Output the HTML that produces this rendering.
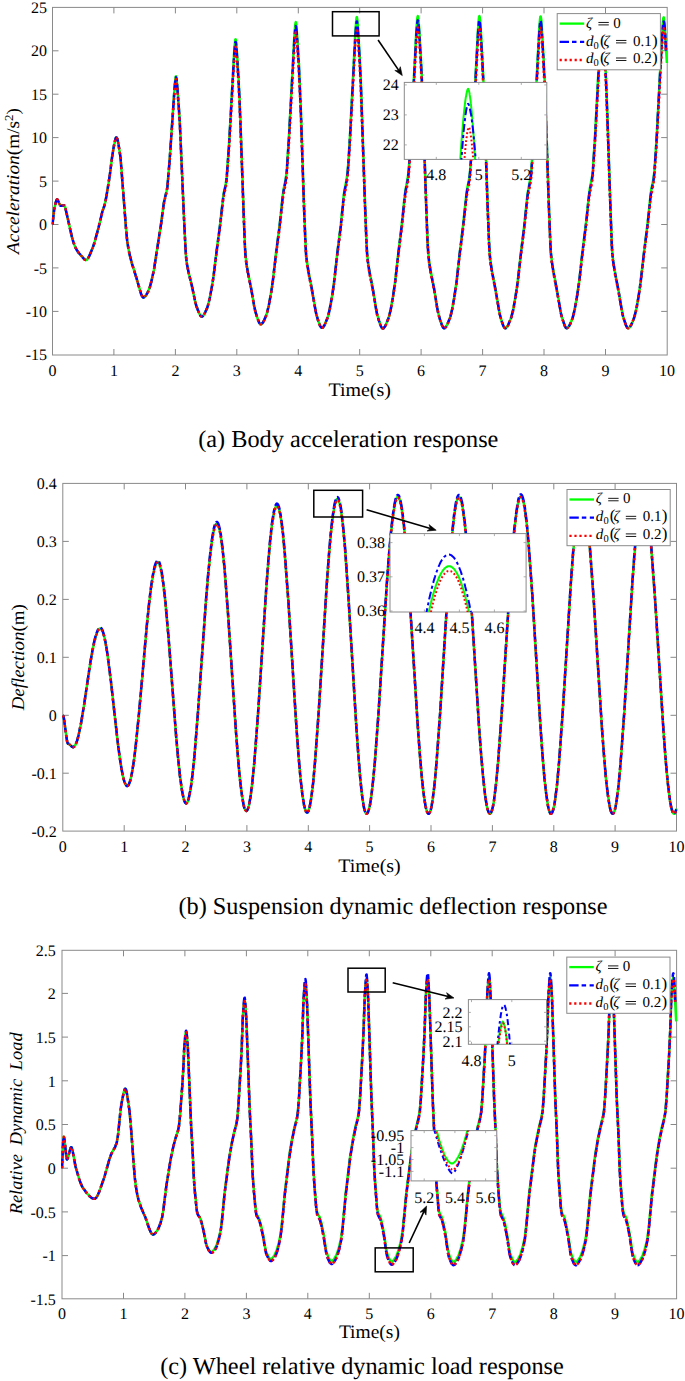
<!DOCTYPE html>
<html><head><meta charset="utf-8"><style>
html,body{margin:0;padding:0;background:#fff;}
svg{display:block;font-family:"Liberation Serif",serif;text-rendering:geometricPrecision;}
</style></head><body>
<svg width="685" height="1381" viewBox="0 0 685 1381">
<rect width="685" height="1381" fill="#fff"/>
<defs><clipPath id="c1"><rect x="51.5" y="6" width="617" height="350"/></clipPath><clipPath id="c2"><rect x="61.8" y="482.4" width="616" height="350"/></clipPath><clipPath id="c3"><rect x="61" y="949.3" width="616.8" height="350.2"/></clipPath><clipPath id="i1"><rect x="404.3" y="82.4" width="142.5" height="77"/></clipPath><clipPath id="i2"><rect x="390" y="533.6" width="136.1" height="78.4"/></clipPath><clipPath id="i3"><rect x="468.4" y="999.6" width="78.1" height="44.7"/></clipPath><clipPath id="i4"><rect x="411" y="1130.6" width="85.8" height="50.3"/></clipPath></defs>
<rect x="52.5" y="7.4" width="614.7" height="347.6" fill="none" stroke="#8a8a8a" stroke-width="1"/>
<path d="M113.9,355v-6M113.9,7.4v6" stroke="#888" stroke-width="1"/>
<path d="M175.4,355v-6M175.4,7.4v6" stroke="#888" stroke-width="1"/>
<path d="M236.8,355v-6M236.8,7.4v6" stroke="#888" stroke-width="1"/>
<path d="M298.3,355v-6M298.3,7.4v6" stroke="#888" stroke-width="1"/>
<path d="M359.7,355v-6M359.7,7.4v6" stroke="#888" stroke-width="1"/>
<path d="M421.1,355v-6M421.1,7.4v6" stroke="#888" stroke-width="1"/>
<path d="M482.6,355v-6M482.6,7.4v6" stroke="#888" stroke-width="1"/>
<path d="M544.0,355v-6M544.0,7.4v6" stroke="#888" stroke-width="1"/>
<path d="M605.5,355v-6M605.5,7.4v6" stroke="#888" stroke-width="1"/>
<path d="M52.5,311.4h6M667.2,311.4h-6" stroke="#888" stroke-width="1"/>
<path d="M52.5,267.9h6M667.2,267.9h-6" stroke="#888" stroke-width="1"/>
<path d="M52.5,224.5h6M667.2,224.5h-6" stroke="#888" stroke-width="1"/>
<path d="M52.5,181.1h6M667.2,181.1h-6" stroke="#888" stroke-width="1"/>
<path d="M52.5,137.6h6M667.2,137.6h-6" stroke="#888" stroke-width="1"/>
<path d="M52.5,94.2h6M667.2,94.2h-6" stroke="#888" stroke-width="1"/>
<path d="M52.5,50.8h6M667.2,50.8h-6" stroke="#888" stroke-width="1"/>

<path d="M52.5,224.5 53.5,215.1 54.3,208.7 55.7,202.5 56.7,199.7 57.2,199.3 57.8,199.9 59.7,204.6 60.5,205.7 61.0,205.8 63.7,205.4 64.4,205.5 65.0,206.7 65.6,208.9 71.8,236.6 73.6,242.8 75.2,247.1 76.7,249.9 78.6,252.7 84.3,259.2 85.2,259.9 86.0,260.1 86.8,259.8 87.6,258.9 88.7,257.1 90.0,254.4 92.8,247.5 94.2,243.5 98.5,227.8 102.5,211.0 104.4,205.8 105.1,203.0 106.4,196.3 108.0,186.6 109.9,174.4 112.1,156.9 113.9,145.9 115.4,139.0 116.0,137.6 116.4,137.4 116.6,137.5 117.4,139.0 118.2,142.6 120.5,157.2 126.1,229.6 127.2,240.9 128.4,248.8 129.8,255.3 131.8,263.1 136.5,278.2 140.9,293.4 142.0,296.0 142.9,297.3 143.4,297.5 144.0,297.3 145.3,296.3 146.5,294.5 148.0,291.7 149.7,287.6 151.5,280.8 153.9,269.9 161.1,223.3 163.8,203.0 164.7,198.5 166.5,191.2 167.4,186.3 169.6,160.1 174.6,86.7 175.4,78.7 175.7,76.6 176.0,76.2 176.2,76.6 176.6,78.6 177.2,84.8 178.9,107.8 179.9,124.0 184.2,222.2 185.6,250.0 186.2,258.3 187.1,264.7 188.7,272.7 192.0,286.3 195.0,300.9 196.3,305.8 198.5,311.7 200.2,315.2 200.9,316.2 201.6,316.5 202.3,316.5 203.0,315.9 204.0,314.6 205.2,312.3 207.1,308.1 207.9,305.5 209.8,297.8 212.1,285.1 213.6,275.4 216.7,249.9 220.0,225.0 223.1,197.5 223.9,192.3 225.8,183.4 226.6,177.6 229.0,144.5 234.2,51.6 235.0,42.2 235.3,39.7 235.6,39.2 235.8,39.7 236.2,42.2 236.8,49.9 238.4,75.8 239.4,95.3 240.6,126.0 243.6,211.1 244.9,245.0 245.5,255.3 246.4,262.9 247.9,272.0 251.2,288.5 254.1,305.5 255.4,311.6 257.5,318.4 259.2,322.7 259.8,323.7 260.4,324.3 261.0,324.3 261.8,323.9 262.7,322.8 264.0,320.5 266.2,315.3 267.0,312.7 268.9,304.8 271.2,291.6 272.9,280.1 276.1,252.1 279.6,225.1 282.8,194.9 283.6,189.3 285.6,179.4 286.6,172.2 288.9,137.0 294.3,36.8 295.2,25.2 295.6,22.7 295.8,22.1 296.0,22.7 296.4,25.2 297.0,33.0 298.8,61.8 299.7,81.9 301.0,113.4 304.0,205.2 305.5,243.3 306.1,253.8 307.0,261.8 308.6,272.0 312.0,289.6 315.0,307.3 316.3,314.2 318.4,321.3 320.1,325.8 320.9,327.1 321.5,327.7 322.1,327.8 322.7,327.6 323.8,326.3 324.9,324.3 328.0,316.4 329.8,308.5 332.2,295.1 334.0,282.5 337.3,252.6 340.7,225.7 343.8,194.6 344.7,188.9 346.7,178.7 347.5,172.3 348.3,163.0 349.9,136.8 355.4,31.4 356.3,19.8 356.6,17.5 356.9,17.2 357.5,21.0 358.1,29.3 359.7,56.7 360.8,79.9 365.0,202.9 366.5,242.1 367.1,252.9 367.9,261.1 369.5,271.6 373.0,289.6 375.9,307.7 377.1,314.2 379.0,320.7 380.8,326.0 381.6,327.4 382.2,328.2 382.8,328.5 383.4,328.3 384.5,327.2 385.6,325.3 388.8,317.3 390.7,309.5 393.0,296.2 395.0,282.7 398.2,253.8 401.6,225.8 404.8,194.6 405.7,188.8 407.6,178.6 408.5,172.3 409.2,163.1 410.8,137.0 416.3,31.3 417.2,19.2 417.6,16.6 417.8,16.1 418.1,16.6 418.4,19.1 419.1,26.9 420.8,56.0 421.8,76.3 423.0,107.9 426.2,204.2 427.5,239.8 428.3,253.0 429.1,260.9 430.7,271.2 434.2,289.1 437.2,307.7 438.5,314.1 440.3,320.5 442.2,325.7 443.5,328.0 444.1,328.3 444.7,328.1 445.8,327.1 447.1,325.0 450.3,317.0 452.1,309.2 454.3,296.7 456.4,282.5 459.7,252.8 463.0,226.0 466.4,194.0 467.2,188.4 469.1,178.9 470.0,171.8 472.4,136.2 477.9,31.1 478.8,19.2 479.1,16.6 479.4,16.1 479.6,16.6 480.0,19.2 480.6,27.2 482.3,56.9 483.3,77.7 484.5,110.4 487.6,204.6 489.0,240.7 489.6,252.1 490.4,260.5 492.0,271.0 495.5,289.2 499.7,313.9 501.5,320.5 503.3,325.8 504.6,327.9 505.2,328.3 505.8,328.2 506.9,327.2 508.1,325.1 511.3,317.2 513.2,309.6 515.5,296.5 517.6,282.3 520.8,253.6 524.2,225.9 527.4,195.0 528.3,189.2 530.4,178.3 531.2,171.9 533.6,136.3 539.1,31.5 540.0,19.6 540.3,17.0 540.6,16.5 540.8,17.0 541.2,19.6 541.8,27.5 543.5,56.8 544.5,77.2 545.7,109.2 548.8,202.6 550.3,241.6 550.9,252.5 551.8,260.7 553.4,271.1 556.9,289.8 561.0,313.6 562.0,317.5 564.7,325.6 565.9,327.8 566.5,328.2 567.1,328.2 568.2,327.3 569.5,325.4 571.1,321.8 572.8,317.3 574.6,309.7 576.8,297.3 579.3,280.3 582.2,253.7 586.0,222.9 588.9,195.2 589.7,189.3 591.8,178.5 592.7,172.1 595.0,136.5 600.5,31.9 601.4,20.1 601.8,17.5 602.0,16.9 602.3,17.5 602.6,20.0 603.2,27.9 605.0,57.2 606.0,77.6 607.2,109.5 610.3,202.8 611.7,241.7 612.3,252.6 613.2,260.8 614.8,271.2 618.4,289.8 622.4,313.6 623.3,317.1 626.0,325.3 627.3,327.8 627.9,328.2 628.4,328.3 629.5,327.5 630.8,325.6 632.4,322.2 634.2,317.4 636.1,309.9 638.3,297.7 639.7,288.5 640.8,280.0 643.8,253.7 647.6,223.1 650.6,194.6 651.4,189.0 653.4,179.0 654.2,172.8 655.3,158.2 656.7,135.9 662.1,34.1 662.8,23.0 663.3,18.4 663.6,17.4 663.7,17.3 663.8,17.4 664.4,22.0 666.9,63.0" fill="none" stroke="#00ff00" stroke-width="2.5"  stroke-linejoin="round" clip-path="url(#c1)"/>
<path d="M52.5,224.5 53.5,215.1 54.3,208.7 55.7,202.5 56.7,199.7 57.2,199.3 57.8,199.9 59.7,204.6 60.5,205.7 61.0,205.8 63.7,205.4 64.4,205.5 65.0,206.7 65.6,208.9 71.8,236.6 73.6,242.8 75.2,247.1 76.7,249.9 78.6,252.7 84.3,259.2 85.2,259.9 86.0,260.1 86.8,259.8 87.6,258.9 88.7,257.1 90.0,254.4 92.8,247.5 94.2,243.5 98.5,227.8 102.5,211.0 104.4,205.8 105.1,203.0 106.4,196.3 108.0,186.6 109.9,174.4 112.1,156.9 113.9,145.9 115.4,139.0 116.0,137.6 116.4,137.4 116.6,137.5 117.4,139.0 118.2,142.6 120.5,157.2 126.1,229.6 127.2,240.9 128.4,248.8 129.8,255.3 131.8,263.1 136.5,278.2 140.9,293.4 142.0,296.0 142.9,297.3 143.4,297.5 144.0,297.3 145.3,296.3 146.5,294.5 148.0,291.8 149.7,287.7 151.5,280.9 153.9,270.0 161.1,223.7 163.8,203.5 164.7,199.0 166.5,191.7 167.4,186.9 169.6,160.8 174.6,87.7 175.4,79.8 175.7,77.7 176.0,77.3 176.2,77.7 176.6,79.7 177.2,85.9 178.9,108.8 179.9,124.9 184.2,222.6 185.6,250.3 186.2,258.6 187.1,264.9 188.7,272.9 192.0,286.4 195.0,300.9 196.3,305.9 198.5,311.8 200.2,315.2 200.9,316.2 201.6,316.5 202.3,316.5 203.0,315.9 204.0,314.6 205.2,312.3 207.1,308.1 207.9,305.7 209.8,298.0 212.1,285.4 213.6,275.9 216.7,250.6 220.0,226.0 223.1,198.7 223.9,193.5 225.8,184.8 226.6,179.0 229.0,146.2 234.2,54.3 235.0,45.0 235.3,42.5 235.6,42.0 235.8,42.5 236.2,45.1 236.8,52.6 238.4,78.3 239.4,97.6 240.6,128.0 243.6,212.2 244.9,245.8 245.5,256.0 246.4,263.5 247.9,272.5 251.2,288.9 254.1,305.7 255.4,311.7 257.5,318.5 259.2,322.8 259.8,323.7 260.4,324.3 261.0,324.3 261.8,324.0 262.7,322.8 264.0,320.6 266.2,315.4 267.0,312.9 268.9,305.1 271.2,292.1 272.9,280.6 276.1,253.1 279.6,226.4 282.8,196.6 283.6,191.1 285.6,181.3 286.6,174.2 288.9,139.4 294.3,40.6 295.2,29.1 295.6,26.6 295.8,26.1 296.0,26.6 296.4,29.1 297.0,36.7 298.8,65.2 299.7,85.1 301.0,116.2 304.0,206.7 305.5,244.4 306.1,254.8 307.0,262.6 308.6,272.7 312.0,290.1 315.0,307.5 316.3,314.4 318.4,321.4 320.1,325.9 320.9,327.1 321.5,327.7 322.1,327.8 322.7,327.6 323.8,326.3 324.9,324.3 328.0,316.6 329.8,308.8 332.2,295.6 334.0,283.1 337.3,253.6 340.7,227.1 343.8,196.5 344.7,190.8 346.7,180.7 347.5,174.5 348.3,165.2 349.9,139.4 355.4,35.4 356.3,24.0 356.6,21.8 356.9,21.5 357.5,25.2 358.1,33.4 359.7,60.4 360.8,83.3 365.0,204.6 366.5,243.2 367.1,254.0 367.9,262.0 369.5,272.3 373.0,290.2 375.9,308.0 377.1,314.4 379.0,320.8 380.8,326.0 381.6,327.4 382.2,328.2 382.8,328.5 383.4,328.3 384.5,327.2 385.6,325.3 388.8,317.4 390.7,309.8 393.0,296.6 395.0,283.3 398.2,254.8 401.6,227.2 404.8,196.5 405.7,190.8 407.6,180.7 408.5,174.5 409.2,165.4 410.8,139.6 416.3,35.4 417.2,23.5 417.6,20.9 417.8,20.4 418.1,20.9 418.4,23.4 419.1,31.1 420.8,59.8 421.8,79.8 423.0,111.0 426.2,205.9 427.5,241.1 428.3,254.0 429.1,261.9 430.7,272.0 434.2,289.6 437.2,307.9 438.5,314.3 440.3,320.6 442.2,325.8 443.5,328.0 444.1,328.3 444.7,328.1 445.8,327.1 447.1,325.0 450.3,317.1 452.1,309.5 454.3,297.2 456.4,283.2 459.7,253.8 463.0,227.4 466.4,195.9 467.2,190.3 469.1,181.0 470.0,174.0 472.4,138.9 477.9,35.2 478.8,23.5 479.1,20.9 479.4,20.4 479.6,20.9 480.0,23.5 480.6,31.4 482.3,60.7 483.3,81.2 484.5,113.4 487.6,206.3 489.0,241.9 489.6,253.1 490.4,261.4 492.0,271.8 495.5,289.8 499.7,314.1 501.5,320.6 503.3,325.8 504.6,327.9 505.2,328.3 505.8,328.2 506.9,327.2 508.1,325.2 511.3,317.4 513.2,309.9 515.5,296.9 517.6,282.9 520.8,254.7 524.2,227.3 527.4,196.8 528.3,191.1 530.4,180.3 531.2,174.0 533.6,138.9 539.1,35.6 540.0,23.9 540.3,21.3 540.6,20.8 540.8,21.3 541.2,23.9 541.8,31.6 543.5,60.6 544.5,80.7 545.7,112.3 548.8,204.4 550.3,242.8 550.9,253.5 551.8,261.6 553.4,271.9 556.9,290.3 561.0,313.8 562.0,317.6 564.7,325.6 565.9,327.8 566.5,328.2 567.1,328.2 568.2,327.4 569.5,325.4 571.1,321.9 572.8,317.4 574.6,309.9 576.8,297.7 579.3,281.0 582.2,254.8 586.0,224.3 588.9,197.0 589.7,191.3 591.8,180.5 592.7,174.2 595.0,139.2 600.5,36.0 601.4,24.3 601.8,21.7 602.0,21.2 602.3,21.7 602.6,24.3 603.2,32.0 605.0,60.9 606.0,81.0 607.2,112.6 610.3,204.5 611.7,242.9 612.3,253.6 613.2,261.7 614.8,272.0 618.4,290.4 622.4,313.8 623.4,317.6 626.1,325.6 627.3,327.8 627.9,328.2 628.6,328.2 629.7,327.4 630.9,325.4 632.4,322.3 634.2,317.5 636.1,310.2 638.3,298.2 639.7,289.1 640.8,280.7 643.8,254.7 647.6,224.5 650.6,196.4 651.4,190.9 653.4,181.0 654.2,174.9 656.3,144.9 661.0,56.7 662.5,32.2 663.2,23.5 663.6,21.7 663.8,21.6 664.2,22.9 664.6,25.7 665.3,35.8 666.0,51.7" fill="none" stroke="#0000ff" stroke-width="2.5" stroke-dasharray="9.8 2.7 4.8 2.7" stroke-linejoin="round" clip-path="url(#c1)"/>
<path d="M52.5,224.5 53.5,215.1 54.3,208.7 55.7,202.5 56.7,199.7 57.2,199.3 57.8,199.9 59.7,204.6 60.5,205.7 61.0,205.8 63.7,205.4 64.4,205.5 65.0,206.7 65.6,208.9 71.8,236.6 73.6,242.8 75.2,247.1 76.7,249.9 78.6,252.7 84.3,259.2 85.2,259.9 86.0,260.1 86.8,259.8 87.6,258.9 88.7,257.1 90.0,254.4 92.8,247.5 94.2,243.5 98.5,227.8 102.5,211.0 104.4,205.8 105.1,203.0 106.4,196.3 108.0,186.6 109.9,174.4 112.1,156.9 113.9,145.9 115.4,139.0 116.0,137.6 116.4,137.4 116.6,137.5 117.4,139.0 118.2,142.6 120.5,157.2 126.1,229.6 127.2,240.9 128.4,248.8 129.8,255.3 131.8,263.1 136.5,278.2 140.9,293.4 142.0,296.0 142.9,297.3 143.4,297.5 144.0,297.3 145.3,296.3 146.5,294.5 148.0,291.8 149.7,287.8 151.5,281.0 153.9,270.3 161.1,224.3 163.8,204.2 164.7,199.8 166.5,192.6 167.4,187.7 169.6,161.9 174.6,89.4 175.4,81.6 175.7,79.5 176.0,79.0 176.2,79.5 176.6,81.5 177.2,87.6 178.9,110.4 179.9,126.3 184.2,223.3 185.6,250.8 186.2,259.0 187.1,265.3 188.7,273.3 192.0,286.6 195.0,301.0 196.3,306.0 198.5,311.8 200.2,315.3 200.9,316.2 201.6,316.5 202.3,316.5 203.0,315.9 204.0,314.7 205.2,312.4 207.1,308.3 207.9,305.8 209.8,298.3 212.1,285.9 213.6,276.5 216.7,251.7 220.0,227.5 223.1,200.7 223.9,195.6 225.8,187.0 226.6,181.3 229.0,149.1 234.2,58.6 235.0,49.5 235.3,47.1 235.6,46.6 235.8,47.1 236.2,49.6 236.8,57.0 238.4,82.3 239.4,101.2 240.6,131.1 243.6,214.0 244.9,247.0 245.5,257.1 246.4,264.5 247.9,273.4 251.2,289.4 254.1,306.0 255.4,311.9 257.5,318.6 259.2,322.8 259.8,323.7 260.4,324.3 261.0,324.4 261.8,324.0 262.7,322.8 264.0,320.7 266.2,315.6 267.0,313.1 268.9,305.5 271.2,292.7 272.9,281.6 276.1,254.6 279.6,228.4 282.8,199.3 283.6,193.9 285.6,184.3 286.6,177.4 288.9,143.3 294.3,46.5 295.2,35.3 295.6,32.8 295.8,32.3 296.0,32.8 296.4,35.3 297.0,42.8 298.8,70.7 299.7,90.1 301.0,120.6 304.0,209.2 305.5,246.2 306.1,256.3 307.0,264.0 308.6,273.8 312.0,290.9 316.2,314.1 318.2,320.8 320.0,325.7 320.7,327.0 321.4,327.6 322.0,327.8 322.6,327.6 323.7,326.5 324.8,324.6 326.5,320.8 328.0,316.8 329.8,309.2 332.1,297.0 334.0,284.1 337.3,255.3 340.7,229.4 343.8,199.4 344.7,193.9 346.7,184.0 347.5,177.9 348.3,168.8 349.9,143.6 355.4,41.9 356.3,30.8 356.6,28.6 356.9,28.3 357.5,31.9 358.1,39.9 359.7,66.4 360.8,88.7 365.0,207.4 366.5,245.1 367.1,255.6 367.9,263.5 369.5,273.6 373.0,291.0 375.9,308.4 377.1,314.7 379.0,321.0 380.8,326.1 381.6,327.5 382.2,328.2 382.8,328.5 383.4,328.3 384.5,327.2 385.6,325.4 388.8,317.7 390.7,310.2 393.0,297.3 395.0,284.3 398.2,256.5 401.6,229.5 404.8,199.5 405.7,193.9 407.6,184.0 408.5,178.0 409.2,169.1 410.8,143.9 416.3,42.0 417.2,30.4 417.6,27.9 417.8,27.4 418.1,27.9 418.4,30.3 419.1,37.8 420.8,65.9 421.8,85.4 423.0,115.9 426.2,208.7 427.5,243.0 428.3,255.7 429.1,263.4 430.7,273.3 434.2,290.5 437.2,308.4 438.5,314.6 440.3,320.8 442.2,325.8 443.5,328.0 444.1,328.3 444.7,328.1 445.8,327.1 447.1,325.1 450.3,317.4 452.1,309.9 454.3,297.9 456.4,284.2 459.7,255.5 463.0,229.7 466.4,198.9 467.2,193.4 469.1,184.3 470.0,177.5 472.4,143.2 477.9,41.9 478.8,30.4 479.1,27.9 479.4,27.4 479.6,27.9 480.0,30.4 480.6,38.1 482.3,66.8 483.3,86.8 484.5,118.2 487.6,209.1 489.0,243.9 489.6,254.8 490.4,262.9 492.0,273.1 495.5,290.6 499.7,314.4 501.5,320.8 503.3,325.9 504.6,327.9 505.2,328.3 505.8,328.2 506.9,327.2 508.1,325.2 511.3,317.6 513.2,310.3 515.5,297.6 517.6,283.9 520.8,256.3 524.2,229.6 527.4,199.8 528.3,194.2 530.4,183.7 531.2,177.5 533.6,143.2 539.1,42.2 540.0,30.7 540.3,28.2 540.6,27.7 540.8,28.2 541.2,30.7 541.8,38.3 543.5,66.6 544.5,86.3 545.7,117.1 548.8,207.1 550.3,244.7 550.9,255.2 551.8,263.1 553.4,273.2 556.9,291.2 561.0,314.1 562.0,317.9 564.7,325.7 565.9,327.8 566.5,328.2 567.1,328.2 568.2,327.4 569.5,325.5 571.1,322.0 572.8,317.6 574.6,310.3 576.8,298.4 579.3,282.0 582.2,256.4 586.0,226.6 588.9,199.9 589.7,194.3 591.8,183.8 592.7,177.7 595.0,143.4 600.5,42.5 601.4,31.1 601.8,28.6 602.0,28.1 602.3,28.6 602.6,31.1 603.2,38.6 605.0,66.9 606.0,86.5 607.2,117.4 610.3,207.3 611.7,244.8 612.3,255.3 613.2,263.2 614.8,273.2 618.4,291.2 622.4,314.2 623.4,317.9 626.1,325.7 627.3,327.8 627.9,328.2 628.6,328.2 629.8,327.2 631.1,325.0 633.7,319.1 634.7,316.2 635.9,311.2 637.2,305.0 640.2,286.5 643.8,256.3 647.6,226.8 650.4,200.3 651.3,194.6 653.5,183.5 654.5,176.0 656.6,144.8 661.0,62.8 663.1,31.3 663.5,28.9 663.7,28.3 664.2,29.3 664.6,31.3 665.3,39.0 666.0,51.7" fill="none" stroke="#ff0000" stroke-width="2.5" stroke-dasharray="2.3 2.7" stroke-linejoin="round" clip-path="url(#c1)"/>

<text x="47.0" y="360.4" font-size="16" text-anchor="end" >-15</text>

<text x="47.0" y="317.0" font-size="16" text-anchor="end" >-10</text>

<text x="47.0" y="273.5" font-size="16" text-anchor="end" >-5</text>

<text x="47.0" y="230.1" font-size="16" text-anchor="end" >0</text>

<text x="47.0" y="186.7" font-size="16" text-anchor="end" >5</text>

<text x="47.0" y="143.2" font-size="16" text-anchor="end" >10</text>

<text x="47.0" y="99.8" font-size="16" text-anchor="end" >15</text>

<text x="47.0" y="56.4" font-size="16" text-anchor="end" >20</text>

<text x="47.0" y="13.0" font-size="16" text-anchor="end" >25</text>

<text x="52.5" y="375.7" font-size="16" text-anchor="middle" >0</text>

<text x="113.9" y="375.7" font-size="16" text-anchor="middle" >1</text>

<text x="175.4" y="375.7" font-size="16" text-anchor="middle" >2</text>

<text x="236.8" y="375.7" font-size="16" text-anchor="middle" >3</text>

<text x="298.3" y="375.7" font-size="16" text-anchor="middle" >4</text>

<text x="359.7" y="375.7" font-size="16" text-anchor="middle" >5</text>

<text x="421.1" y="375.7" font-size="16" text-anchor="middle" >6</text>

<text x="482.6" y="375.7" font-size="16" text-anchor="middle" >7</text>

<text x="544.0" y="375.7" font-size="16" text-anchor="middle" >8</text>

<text x="605.5" y="375.7" font-size="16" text-anchor="middle" >9</text>

<text x="666.9" y="375.7" font-size="16" text-anchor="middle" >10</text>

<text x="359.7" y="395.5" font-size="19" text-anchor="middle" textLength="62.5" lengthAdjust="spacingAndGlyphs">Time(s)</text>

<text x="348.3" y="446.5" font-size="24.3" text-anchor="middle" >(a) Body acceleration response</text>

<text transform="translate(19,181) rotate(-90)" font-size="18" text-anchor="middle" textLength="146" lengthAdjust="spacingAndGlyphs" ><tspan font-style="italic">Acceleration</tspan>(m/s<tspan dy="-6" font-size="12">2</tspan><tspan dy="6">)</tspan></text>

<rect x="557.2" y="13.6" width="103.2" height="56.2" fill="#fff" stroke="#8a8a8a" stroke-width="1"/>
<path d="M559.6,23.6H584.2" stroke="#00ff00" stroke-width="2.3"/>
<path d="M559.6,41.8H584.2" stroke="#0000ff" stroke-width="2.3" stroke-dasharray="9.4 3 4.5 3.5"/>
<path d="M559.6,60.0H584.2" stroke="#ff0000" stroke-width="2.3" stroke-dasharray="2.2 2.8"/>
<text font-size="15" y="27.5"><tspan x="586.0" font-style="italic">ζ</tspan><tspan x="613.2">0</tspan></text>
<rect x="598.4" y="21.95" width="10.4" height="0.9" fill="#000"/><rect x="598.4" y="24.45" width="10.4" height="0.9" fill="#000"/>
<text font-size="15" y="45.5"><tspan x="586.0" font-style="italic">d</tspan><tspan x="593.6" dy="3" font-size="10.5">0</tspan><tspan x="600.0" dy="-3" font-size="17">(</tspan><tspan x="603.6" font-style="italic" font-size="15">ζ</tspan><tspan x="633.0">0.1</tspan><tspan x="652.0" font-size="17">)</tspan></text>
<rect x="616.0" y="39.95" width="10.4" height="0.9" fill="#000"/><rect x="616.0" y="42.45" width="10.4" height="0.9" fill="#000"/>
<text font-size="15" y="63.1"><tspan x="586.0" font-style="italic">d</tspan><tspan x="593.6" dy="3" font-size="10.5">0</tspan><tspan x="600.0" dy="-3" font-size="17">(</tspan><tspan x="603.6" font-style="italic" font-size="15">ζ</tspan><tspan x="633.0">0.2</tspan><tspan x="652.0" font-size="17">)</tspan></text>
<rect x="616.0" y="57.55" width="10.4" height="0.9" fill="#000"/><rect x="616.0" y="60.05" width="10.4" height="0.9" fill="#000"/>

<rect x="332.5" y="11.7" width="46.6" height="24.2" fill="none" stroke="#000" stroke-width="1.5"/>

<path d="M378.1,40.0L398.9,70.6" stroke="#000" stroke-width="1.6"/>
<path d="M402.3,75.6L394.8,70.4L398.9,70.6L400.3,66.7Z" fill="#000" stroke="#000" stroke-width="0.6" stroke-linejoin="miter"/>

<rect x="404.3" y="82.4" width="142.5" height="77.0" fill="#fff" stroke="#8a8a8a" stroke-width="1"/>
<path d="M436.3,159.4v-2.5M436.3,82.4v2.5" stroke="#999" stroke-width="0.8"/>
<text x="436.3" y="179.7" font-size="16" text-anchor="middle" >4.8</text>
<path d="M478.8,159.4v-2.5M478.8,82.4v2.5" stroke="#999" stroke-width="0.8"/>
<text x="478.8" y="179.7" font-size="16" text-anchor="middle" >5</text>
<path d="M521.3,159.4v-2.5M521.3,82.4v2.5" stroke="#999" stroke-width="0.8"/>
<text x="521.3" y="179.7" font-size="16" text-anchor="middle" >5.2</text>
<path d="M404.3,84.9h2.5M546.8,84.9h-2.5" stroke="#999" stroke-width="0.8"/>
<text x="398.8" y="90.3" font-size="16" text-anchor="end" >24</text>
<path d="M404.3,114.9h2.5M546.8,114.9h-2.5" stroke="#999" stroke-width="0.8"/>
<text x="398.8" y="120.3" font-size="16" text-anchor="end" >23</text>
<path d="M404.3,144.9h2.5M546.8,144.9h-2.5" stroke="#999" stroke-width="0.8"/>
<text x="398.8" y="150.3" font-size="16" text-anchor="end" >22</text>

<path d="M459.9,165.9 460.1,162.7 460.3,159.5 460.5,156.3 460.7,153.3 460.9,150.2 461.1,147.3 461.3,144.4 461.5,141.6 461.7,138.8 462.0,136.1 462.2,133.4 462.4,130.8 462.6,128.3 462.8,125.9 463.0,123.5 463.2,121.2 463.4,118.9 463.6,116.7 463.8,114.6 464.0,112.5 464.2,110.5 464.4,108.6 464.6,106.8 464.8,105.0 465.0,103.4 465.2,101.7 465.4,100.2 465.6,98.8 465.8,97.4 466.1,96.1 466.3,94.9 466.5,93.8 466.7,92.8 466.9,91.9 467.1,91.0 467.3,90.3 467.5,89.7 467.7,89.3 467.9,88.9 468.1,88.8 468.3,88.9 468.5,89.3 468.6,89.7 468.8,90.3 469.0,91.0 469.2,91.9 469.4,92.8 469.6,93.8 469.7,94.9 469.9,96.1 470.1,97.4 470.3,98.8 470.5,100.2 470.7,101.7 470.8,103.4 471.0,105.0 471.2,106.8 471.4,108.6 471.6,110.5 471.8,112.5 471.9,114.6 472.1,116.7 472.3,118.9 472.5,121.2 472.7,123.5 472.8,125.9 473.0,128.3 473.2,130.8 473.4,133.4 473.6,136.1 473.8,138.8 473.9,141.6 474.1,144.4 474.3,147.3 474.5,150.2 474.7,153.3 474.9,156.3 475.0,159.5 475.2,162.7 475.4,165.9" fill="none" stroke="#00ff00" stroke-width="2.0"  stroke-linejoin="round" clip-path="url(#i1)"/>

<path d="M461.0,165.9 461.1,163.3 461.3,160.7 461.5,158.2 461.7,155.7 461.9,153.3 462.0,150.9 462.2,148.6 462.4,146.3 462.6,144.1 462.8,141.9 462.9,139.7 463.1,137.7 463.3,135.6 463.5,133.7 463.6,131.7 463.8,129.9 464.0,128.0 464.2,126.3 464.4,124.6 464.5,122.9 464.7,121.3 464.9,119.8 465.1,118.3 465.2,116.9 465.4,115.5 465.6,114.2 465.8,113.0 466.0,111.8 466.1,110.7 466.3,109.7 466.5,108.7 466.7,107.8 466.9,107.0 467.0,106.3 467.2,105.6 467.4,105.0 467.6,104.6 467.7,104.2 467.9,103.9 468.1,103.8 468.3,103.9 468.5,104.2 468.7,104.6 468.9,105.0 469.1,105.6 469.3,106.3 469.5,107.0 469.7,107.8 469.9,108.7 470.1,109.7 470.3,110.7 470.5,111.8 470.7,113.0 471.0,114.2 471.2,115.5 471.4,116.9 471.6,118.3 471.8,119.8 472.0,121.3 472.2,122.9 472.4,124.6 472.6,126.3 472.8,128.0 473.0,129.9 473.2,131.7 473.4,133.7 473.6,135.6 473.8,137.7 474.0,139.7 474.2,141.9 474.4,144.1 474.6,146.3 474.8,148.6 475.0,150.9 475.2,153.3 475.4,155.7 475.6,158.2 475.8,160.7 476.0,163.3 476.3,165.9" fill="none" stroke="#0000ff" stroke-width="2.0" stroke-dasharray="8 3 3 3" stroke-linejoin="round" clip-path="url(#i1)"/>

<path d="M463.9,165.9 464.1,164.3 464.2,162.7 464.3,161.1 464.4,159.6 464.5,158.0 464.7,156.6 464.8,155.1 464.9,153.7 465.0,152.3 465.2,150.9 465.3,149.6 465.4,148.3 465.5,147.0 465.6,145.8 465.8,144.6 465.9,143.4 466.0,142.3 466.1,141.2 466.3,140.1 466.4,139.1 466.5,138.1 466.6,137.2 466.7,136.2 466.9,135.4 467.0,134.5 467.1,133.7 467.2,132.9 467.4,132.2 467.5,131.5 467.6,130.9 467.7,130.3 467.8,129.7 468.0,129.2 468.1,128.7 468.2,128.3 468.3,128.0 468.5,127.7 468.6,127.4 468.7,127.3 468.8,127.2 468.9,127.3 469.1,127.4 469.2,127.7 469.3,128.0 469.4,128.3 469.6,128.7 469.7,129.2 469.8,129.7 469.9,130.3 470.0,130.9 470.2,131.5 470.3,132.2 470.4,132.9 470.5,133.7 470.7,134.5 470.8,135.4 470.9,136.2 471.0,137.2 471.1,138.1 471.3,139.1 471.4,140.1 471.5,141.2 471.6,142.3 471.8,143.4 471.9,144.6 472.0,145.8 472.1,147.0 472.2,148.3 472.4,149.6 472.5,150.9 472.6,152.3 472.7,153.7 472.9,155.1 473.0,156.6 473.1,158.0 473.2,159.6 473.3,161.1 473.5,162.7 473.6,164.3 473.7,165.9" fill="none" stroke="#ff0000" stroke-width="2.0" stroke-dasharray="1.8 2.2" stroke-linejoin="round" clip-path="url(#i1)"/>

<rect x="62.8" y="483.4" width="613.7" height="347.70000000000005" fill="none" stroke="#8a8a8a" stroke-width="1"/>
<path d="M124.2,831.1v-6M124.2,483.4v6" stroke="#888" stroke-width="1"/>
<path d="M185.5,831.1v-6M185.5,483.4v6" stroke="#888" stroke-width="1"/>
<path d="M246.9,831.1v-6M246.9,483.4v6" stroke="#888" stroke-width="1"/>
<path d="M308.3,831.1v-6M308.3,483.4v6" stroke="#888" stroke-width="1"/>
<path d="M369.6,831.1v-6M369.6,483.4v6" stroke="#888" stroke-width="1"/>
<path d="M431.0,831.1v-6M431.0,483.4v6" stroke="#888" stroke-width="1"/>
<path d="M492.4,831.1v-6M492.4,483.4v6" stroke="#888" stroke-width="1"/>
<path d="M553.8,831.1v-6M553.8,483.4v6" stroke="#888" stroke-width="1"/>
<path d="M615.1,831.1v-6M615.1,483.4v6" stroke="#888" stroke-width="1"/>
<path d="M62.8,773.2h6M676.5,773.2h-6" stroke="#888" stroke-width="1"/>
<path d="M62.8,715.3h6M676.5,715.3h-6" stroke="#888" stroke-width="1"/>
<path d="M62.8,657.3h6M676.5,657.3h-6" stroke="#888" stroke-width="1"/>
<path d="M62.8,599.4h6M676.5,599.4h-6" stroke="#888" stroke-width="1"/>
<path d="M62.8,541.4h6M676.5,541.4h-6" stroke="#888" stroke-width="1"/>

<path d="M62.8,715.3 63.0,715.5 63.4,716.2 64.0,718.9 66.5,737.8 67.1,741.3 67.6,743.1 68.0,743.7 68.7,743.8 69.4,744.3 71.8,746.7 72.9,747.2 73.6,747.0 74.3,746.5 75.1,745.5 75.9,743.8 77.2,740.4 78.5,735.5 81.2,722.4 83.8,706.8 90.4,662.5 92.3,651.8 94.0,643.2 95.8,635.9 97.7,631.0 98.6,629.4 99.5,628.6 100.4,628.4 101.2,628.9 102.0,629.9 102.7,631.6 104.3,637.0 105.9,644.8 107.6,655.6 110.7,679.6 117.8,743.0 119.8,757.9 121.5,768.9 123.3,777.9 124.3,781.4 125.2,783.7 126.0,785.2 126.9,785.9 127.7,785.9 128.6,784.9 129.4,783.1 130.3,780.5 132.0,772.7 133.9,761.0 135.7,746.2 139.0,713.4 147.0,624.2 149.1,604.0 150.9,588.8 152.9,575.9 154.7,567.5 155.7,564.5 156.6,562.9 157.4,562.0 157.9,562.0 158.3,562.1 159.2,563.3 160.0,565.6 161.7,573.2 163.4,584.8 165.3,601.2 168.6,638.6 176.2,737.3 178.2,759.2 180.0,776.5 181.9,790.0 183.6,798.5 184.4,801.2 185.3,802.8 186.2,803.4 187.0,802.8 187.9,801.2 188.7,798.5 190.6,789.3 192.4,775.6 194.4,756.7 197.9,713.4 206.0,600.8 208.1,575.7 210.0,556.9 211.8,541.8 213.6,531.1 214.6,527.2 215.5,525.0 216.3,523.8 216.8,523.7 217.2,523.8 218.1,524.9 218.9,527.2 219.8,530.7 220.8,536.1 222.6,550.0 224.6,569.8 228.0,614.1 236.0,732.5 238.1,759.1 239.9,778.9 241.8,794.4 243.5,804.5 244.3,807.8 245.2,809.9 246.1,810.9 246.4,810.9 246.9,810.6 247.8,809.2 248.8,806.1 250.6,796.4 252.4,781.8 254.4,761.3 258.0,714.4 266.2,589.8 268.3,562.4 270.1,541.8 271.9,525.3 273.8,513.6 274.6,509.9 275.5,507.3 276.4,505.8 276.9,505.5 277.2,505.6 278.1,506.5 279.1,509.2 279.9,512.7 280.9,518.3 282.9,533.7 284.8,554.4 288.4,602.4 296.6,730.1 298.7,757.9 300.5,778.5 302.4,794.8 304.1,805.4 305.0,809.0 305.8,811.4 306.7,812.5 307.2,812.6 307.5,812.5 308.4,811.1 309.4,808.1 310.2,804.2 311.2,798.3 313.1,783.3 315.0,762.2 318.6,713.6 326.8,584.4 328.9,556.1 330.7,535.0 332.6,518.3 334.3,507.1 335.2,503.3 336.0,500.6 336.9,499.2 337.6,499.0 338.5,500.0 339.3,502.3 340.2,505.9 341.2,511.6 343.0,526.6 345.0,548.3 348.5,598.9 356.4,728.1 358.4,755.9 360.2,778.0 361.9,794.3 363.6,805.9 364.5,809.9 365.4,812.4 366.1,813.6 366.5,813.8 366.9,813.7 367.8,812.6 368.8,809.9 369.8,805.8 370.8,800.1 372.7,784.7 374.8,762.8 378.5,713.5 386.8,584.7 388.9,556.7 390.9,534.3 392.7,517.6 394.6,505.5 395.4,501.6 396.3,498.9 397.1,497.3 397.6,496.9 398.0,496.8 398.9,497.6 399.8,500.0 400.8,504.0 401.8,509.5 403.8,524.8 405.9,546.8 409.5,597.0 417.9,728.2 420.0,756.3 421.9,778.7 423.8,795.2 425.5,806.1 426.4,809.8 427.2,812.3 428.1,813.6 428.6,813.8 428.9,813.7 429.8,812.5 430.8,809.7 431.6,805.9 432.6,800.1 434.6,784.1 436.5,762.9 440.1,713.8 448.3,583.1 450.4,554.6 452.3,533.3 454.1,516.3 455.8,505.1 456.7,501.2 457.5,498.5 458.4,497.1 459.1,496.9 460.0,497.7 461.0,500.2 462.0,504.1 462.9,509.6 464.9,524.8 467.0,546.6 470.7,596.2 479.1,727.9 481.2,755.9 483.2,778.1 485.0,794.6 486.7,805.6 487.6,809.4 488.5,812.1 489.3,813.5 489.8,813.8 490.2,813.8 491.0,812.8 492.0,810.3 493.0,806.2 494.0,800.6 495.9,785.2 498.0,763.2 501.7,713.4 510.1,583.2 512.2,555.0 514.1,532.6 516.0,516.0 517.7,504.8 518.5,500.9 519.4,498.2 520.3,496.6 521.0,496.3 521.8,497.0 522.8,499.4 523.8,503.4 524.8,509.0 526.8,524.8 528.7,546.0 532.3,595.4 540.5,727.6 542.6,756.4 544.4,777.9 546.3,794.9 548.0,806.0 548.9,809.8 549.7,812.4 550.4,813.6 550.8,813.8 551.3,813.7 552.2,812.7 553.1,810.0 554.1,805.7 555.1,800.0 557.1,784.1 559.0,763.0 562.7,712.6 570.9,582.9 573.0,554.6 574.9,533.3 576.7,516.4 578.4,505.0 579.3,501.0 580.1,498.2 581.0,496.6 581.7,496.3 582.2,496.5 582.7,497.1 583.7,499.6 584.7,503.6 585.7,509.1 587.6,524.3 589.7,546.1 593.4,595.8 601.9,727.8 604.0,755.8 605.9,778.1 607.8,794.6 609.5,805.6 610.3,809.4 611.2,812.0 612.1,813.5 612.6,813.8 612.9,813.8 613.8,812.8 614.8,810.1 615.6,806.5 616.6,800.9 618.6,785.2 620.5,764.2 624.2,713.6 632.4,582.7 634.5,554.1 636.4,532.8 638.1,516.8 639.8,505.1 640.7,501.1 641.5,498.2 642.4,496.6 643.1,496.3 644.0,496.9 645.0,499.2 645.9,503.0 646.9,508.3 648.9,523.2 651.0,544.7 654.8,595.8 663.5,731.3 665.8,761.8 667.9,784.1 670.1,801.4 671.2,807.4 672.3,811.4 673.4,813.5 673.9,813.8 674.4,813.7 675.4,812.2 676.5,808.6" fill="none" stroke="#00ff00" stroke-width="2.5"  stroke-linejoin="round" clip-path="url(#c2)"/>
<path d="M62.8,715.3 63.0,715.5 63.4,716.2 64.0,718.9 66.5,737.8 67.1,741.3 67.6,743.1 68.0,743.7 68.7,743.8 69.4,744.3 71.8,746.7 72.9,747.2 73.6,747.0 74.3,746.4 75.1,745.5 75.9,743.8 77.2,740.4 78.5,735.5 81.2,722.3 83.8,706.5 90.4,662.0 92.3,651.2 94.0,642.5 95.8,635.2 97.7,630.2 98.6,628.6 99.5,627.8 100.4,627.6 101.2,628.1 102.0,629.2 102.7,630.8 104.3,636.2 105.9,644.1 107.6,654.9 110.7,679.1 117.8,742.8 119.8,757.8 121.5,768.8 123.3,777.9 124.3,781.4 125.2,783.7 126.0,785.2 126.9,785.9 127.7,785.9 128.6,784.9 129.4,783.1 130.3,780.4 132.0,772.6 133.9,760.8 135.7,745.9 139.0,713.0 147.0,623.2 149.1,602.9 150.9,587.6 152.9,574.7 154.7,566.2 155.7,563.2 156.6,561.5 157.4,560.7 157.9,560.6 158.3,560.8 159.2,562.0 160.0,564.2 161.7,571.9 163.4,583.6 165.3,600.1 168.6,637.7 176.2,736.9 178.2,759.0 180.0,776.4 181.9,789.9 183.6,798.5 184.4,801.2 185.3,802.8 186.2,803.4 187.0,802.8 187.9,801.2 188.7,798.5 190.6,789.2 192.4,775.5 194.4,756.4 197.9,712.8 206.0,599.6 208.1,574.3 210.0,555.4 211.8,540.2 213.6,529.4 214.6,525.5 215.5,523.3 216.3,522.1 216.8,521.9 217.2,522.0 218.1,523.2 218.9,525.5 219.8,529.0 220.8,534.4 222.6,548.4 224.6,568.3 228.0,612.9 236.0,732.0 238.1,758.8 239.9,778.7 241.8,794.3 243.5,804.4 244.3,807.8 245.2,809.9 246.1,810.9 246.4,810.9 246.9,810.6 247.8,809.2 248.8,806.1 250.6,796.3 252.4,781.6 254.4,761.0 258.0,713.8 266.2,588.4 268.3,560.8 270.1,540.1 271.9,523.6 273.8,511.7 274.6,508.0 275.5,505.4 276.4,503.9 276.9,503.6 277.2,503.7 278.1,504.6 279.1,507.3 279.9,510.9 280.9,516.4 282.9,532.0 284.8,552.8 288.4,601.1 296.6,729.6 298.7,757.5 300.5,778.3 302.4,794.7 304.1,805.4 305.0,809.0 305.8,811.4 306.7,812.5 307.2,812.6 307.5,812.5 308.4,811.1 309.4,808.1 310.2,804.1 311.2,798.2 313.1,783.1 315.0,761.9 318.6,713.0 326.8,583.0 328.9,554.6 330.7,533.3 332.6,516.5 334.3,505.3 335.2,501.4 336.0,498.7 336.9,497.3 337.6,497.1 338.5,498.1 339.3,500.4 340.2,504.0 341.2,509.8 343.0,524.9 345.0,546.6 348.5,597.6 356.4,727.6 358.4,755.6 360.2,777.8 361.9,794.2 363.6,805.9 364.5,809.8 365.4,812.4 366.1,813.6 366.5,813.8 366.9,813.7 367.8,812.6 368.8,809.9 369.8,805.7 370.8,800.0 372.7,784.5 374.8,762.5 378.5,712.9 386.8,583.3 388.9,555.2 390.9,532.6 392.7,515.8 394.6,503.7 395.4,499.7 396.3,497.0 397.1,495.4 397.6,495.0 398.0,494.9 398.9,495.7 399.8,498.1 400.8,502.1 401.8,507.6 403.8,523.1 405.9,545.2 409.5,595.7 417.9,727.6 420.0,756.0 421.9,778.5 423.8,795.0 425.5,806.0 426.4,809.8 427.2,812.3 428.1,813.6 428.6,813.8 428.9,813.7 429.8,812.5 430.8,809.7 431.6,805.9 432.6,800.0 434.6,784.0 436.5,762.6 440.1,713.2 448.3,581.8 450.4,553.0 452.3,531.6 454.1,514.5 455.8,503.2 456.7,499.3 457.5,496.6 458.4,495.2 459.1,494.9 460.0,495.8 461.0,498.3 462.0,502.3 462.9,507.8 464.9,523.1 467.0,545.0 470.7,594.8 479.1,727.4 481.2,755.5 483.2,777.9 485.0,794.5 486.7,805.5 487.6,809.4 488.5,812.0 489.3,813.5 489.8,813.8 490.2,813.8 491.0,812.8 492.0,810.3 493.0,806.1 494.0,800.5 495.9,785.0 498.0,762.9 501.7,712.8 510.1,581.8 512.2,553.5 514.1,530.9 516.0,514.2 517.7,502.9 518.5,499.0 519.4,496.3 520.3,494.7 521.0,494.3 521.8,495.1 522.8,497.5 523.8,501.5 524.8,507.2 526.8,523.1 528.7,544.4 532.3,594.1 540.5,727.1 542.6,756.1 544.4,777.7 546.3,794.7 548.0,806.0 548.9,809.8 549.7,812.4 550.4,813.5 550.8,813.8 551.3,813.7 552.2,812.7 553.1,810.0 554.1,805.7 555.1,799.9 557.1,783.9 559.0,762.7 562.7,711.9 570.9,581.6 573.0,553.0 574.9,531.6 576.7,514.6 578.4,503.1 579.3,499.1 580.1,496.3 581.0,494.7 581.7,494.3 582.2,494.6 582.7,495.2 583.7,497.7 584.7,501.7 585.7,507.2 587.6,522.5 589.7,544.5 593.4,594.4 601.9,727.3 604.0,755.4 605.9,777.9 607.8,794.4 609.5,805.5 610.3,809.4 611.2,812.0 612.1,813.5 612.6,813.8 612.9,813.8 613.8,812.8 614.8,810.1 615.6,806.5 616.6,800.8 618.6,785.1 620.5,763.9 624.2,713.0 632.4,581.3 634.5,552.6 636.4,531.1 638.1,515.0 639.8,503.3 640.7,499.2 641.5,496.3 642.4,494.7 643.1,494.3 644.0,495.0 645.0,497.3 645.9,501.1 646.9,506.4 648.9,521.4 651.0,543.1 654.8,594.4 663.5,730.8 665.8,761.5 667.9,783.9 670.1,801.3 671.2,807.3 672.3,811.4 673.4,813.5 673.9,813.8 674.4,813.7 675.4,812.2 676.5,808.6" fill="none" stroke="#0000ff" stroke-width="2.5" stroke-dasharray="9.8 2.7 4.8 2.7" stroke-linejoin="round" clip-path="url(#c2)"/>
<path d="M62.8,715.3 63.0,715.5 63.4,716.2 64.0,718.9 66.5,737.8 67.1,741.3 67.6,743.1 68.0,743.7 68.7,743.8 69.4,744.3 71.8,746.7 72.9,747.2 73.6,747.0 74.3,746.5 75.1,745.5 75.9,743.8 77.2,740.4 78.5,735.6 81.2,722.5 83.8,706.9 90.4,662.8 92.3,652.0 94.0,643.4 95.8,636.2 97.7,631.3 98.6,629.7 99.5,628.9 100.4,628.7 101.2,629.2 102.0,630.2 102.7,631.9 104.3,637.2 105.9,645.0 107.6,655.8 110.7,679.8 117.8,743.0 119.8,758.0 121.5,768.9 123.3,777.9 124.3,781.4 125.2,783.7 126.0,785.2 126.9,785.9 127.7,785.9 128.6,784.9 129.4,783.1 130.3,780.5 132.0,772.7 133.9,761.0 135.7,746.3 139.0,713.6 147.0,624.6 149.1,604.4 150.9,589.2 152.9,576.4 154.7,568.0 155.7,565.1 156.6,563.4 157.4,562.6 157.9,562.5 158.3,562.7 159.2,563.8 160.0,566.1 161.7,573.7 163.4,585.3 165.3,601.6 168.6,638.9 176.2,737.4 178.2,759.3 180.0,776.6 181.9,790.0 183.6,798.5 184.4,801.2 185.3,802.8 186.2,803.4 187.0,802.8 187.9,801.2 188.7,798.6 190.6,789.3 192.4,775.7 194.4,756.8 197.9,713.6 206.0,601.3 208.1,576.3 210.0,557.5 211.8,542.4 213.6,531.7 214.6,527.9 215.5,525.7 216.3,524.5 216.8,524.3 217.2,524.4 218.1,525.6 218.9,527.9 219.8,531.4 220.8,536.7 222.6,550.6 224.6,570.4 228.0,614.5 236.0,732.7 238.1,759.3 239.9,779.0 241.8,794.4 243.5,804.5 244.3,807.8 245.2,809.9 246.1,810.9 246.4,810.9 246.9,810.6 247.8,809.2 248.8,806.1 250.6,796.4 252.4,781.8 254.4,761.5 258.0,714.7 266.2,590.3 268.3,563.0 270.1,542.5 271.9,526.0 273.8,514.3 274.6,510.6 275.5,508.0 276.4,506.6 276.9,506.3 277.2,506.3 278.1,507.3 279.1,509.9 279.9,513.5 280.9,519.0 282.9,534.4 284.8,555.0 288.4,602.9 296.6,730.3 298.7,758.0 300.5,778.6 302.4,794.8 304.1,805.5 305.0,809.0 305.8,811.4 306.7,812.5 307.2,812.6 307.5,812.5 308.4,811.1 309.4,808.1 310.2,804.2 311.2,798.3 313.1,783.4 315.0,762.4 318.6,713.9 326.8,584.9 328.9,556.8 330.7,535.7 332.6,519.0 334.3,507.9 335.2,504.0 336.0,501.4 336.9,500.0 337.6,499.8 338.5,500.7 339.3,503.0 340.2,506.6 341.2,512.3 343.0,527.3 345.0,548.9 348.5,599.4 356.4,728.3 358.4,756.1 360.2,778.1 361.9,794.4 363.6,806.0 364.5,809.9 365.4,812.4 366.1,813.6 366.5,813.8 366.9,813.7 367.8,812.6 368.8,809.9 369.8,805.8 370.8,800.1 372.7,784.8 374.8,762.9 378.5,713.7 386.8,585.2 388.9,557.3 390.9,535.0 392.7,518.3 394.6,506.2 395.4,502.4 396.3,499.6 397.1,498.0 397.6,497.6 398.0,497.6 398.9,498.4 399.8,500.8 400.8,504.7 401.8,510.2 403.8,525.5 405.9,547.5 409.5,597.5 417.9,728.4 420.0,756.5 421.9,778.8 423.8,795.2 425.5,806.1 426.4,809.8 427.2,812.3 428.1,813.6 428.6,813.8 428.9,813.7 429.8,812.5 430.8,809.7 431.6,805.9 432.6,800.1 434.6,784.2 436.5,763.0 440.1,714.0 448.3,583.7 450.4,555.2 452.3,533.9 454.1,517.0 455.8,505.8 456.7,501.9 457.5,499.3 458.4,497.8 459.1,497.6 460.0,498.5 461.0,500.9 462.0,504.9 462.9,510.3 464.9,525.5 467.0,547.2 470.7,596.7 479.1,728.1 481.2,756.0 483.2,778.2 485.0,794.6 486.7,805.6 487.6,809.4 488.5,812.1 489.3,813.5 489.8,813.8 490.2,813.8 491.0,812.8 492.0,810.3 493.0,806.2 494.0,800.6 495.9,785.3 498.0,763.3 501.7,713.6 510.1,583.7 512.2,555.7 514.1,533.3 516.0,516.7 517.7,505.5 518.5,501.6 519.4,498.9 520.3,497.4 521.0,497.0 521.8,497.7 522.8,500.1 523.8,504.1 524.8,509.7 526.8,525.5 528.7,546.7 532.3,596.0 540.5,727.8 542.6,756.5 544.4,778.0 546.3,794.9 548.0,806.1 548.9,809.8 549.7,812.4 550.4,813.6 550.8,813.8 551.3,813.7 552.2,812.7 553.1,810.0 554.1,805.8 555.1,800.0 557.1,784.1 559.0,763.1 562.7,712.8 570.9,583.5 573.0,555.2 574.9,534.0 576.7,517.1 578.4,505.7 579.3,501.7 580.1,499.0 581.0,497.4 581.7,497.0 582.2,497.3 582.7,497.9 583.7,500.3 584.7,504.3 585.7,509.8 587.6,525.0 589.7,546.8 593.4,596.3 601.9,728.0 604.0,755.9 605.9,778.2 607.8,794.6 609.5,805.6 610.3,809.4 611.2,812.1 612.1,813.5 612.6,813.8 612.9,813.8 613.8,812.8 614.8,810.1 615.6,806.5 616.6,800.9 618.6,785.3 620.5,764.4 624.2,713.8 632.4,583.3 634.5,554.7 636.4,533.4 638.1,517.5 639.8,505.9 640.7,501.8 641.5,499.0 642.4,497.4 643.1,497.0 644.0,497.7 645.0,499.9 645.9,503.7 646.9,509.0 648.9,523.9 651.0,545.3 654.8,596.3 663.5,731.5 665.8,761.9 667.9,784.1 670.1,801.4 671.2,807.4 672.3,811.4 673.4,813.5 673.9,813.8 674.4,813.7 675.4,812.2 676.5,808.6" fill="none" stroke="#ff0000" stroke-width="2.5" stroke-dasharray="2.3 2.7" stroke-linejoin="round" clip-path="url(#c2)"/>

<text x="56.8" y="836.8" font-size="16" text-anchor="end" >-0.2</text>

<text x="56.8" y="778.9" font-size="16" text-anchor="end" >-0.1</text>

<text x="56.8" y="720.9" font-size="16" text-anchor="end" >0</text>

<text x="56.8" y="662.9" font-size="16" text-anchor="end" >0.1</text>

<text x="56.8" y="605.0" font-size="16" text-anchor="end" >0.2</text>

<text x="56.8" y="547.0" font-size="16" text-anchor="end" >0.3</text>

<text x="56.8" y="489.1" font-size="16" text-anchor="end" >0.4</text>

<text x="62.8" y="852.0" font-size="16" text-anchor="middle" >0</text>

<text x="124.2" y="852.0" font-size="16" text-anchor="middle" >1</text>

<text x="185.5" y="852.0" font-size="16" text-anchor="middle" >2</text>

<text x="246.9" y="852.0" font-size="16" text-anchor="middle" >3</text>

<text x="308.3" y="852.0" font-size="16" text-anchor="middle" >4</text>

<text x="369.6" y="852.0" font-size="16" text-anchor="middle" >5</text>

<text x="431.0" y="852.0" font-size="16" text-anchor="middle" >6</text>

<text x="492.4" y="852.0" font-size="16" text-anchor="middle" >7</text>

<text x="553.8" y="852.0" font-size="16" text-anchor="middle" >8</text>

<text x="615.1" y="852.0" font-size="16" text-anchor="middle" >9</text>

<text x="676.5" y="852.0" font-size="16" text-anchor="middle" >10</text>

<text x="369.5" y="871.5" font-size="19" text-anchor="middle" textLength="62.5" lengthAdjust="spacingAndGlyphs">Time(s)</text>

<text x="393.0" y="913.5" font-size="24.3" text-anchor="middle" >(b) Suspension dynamic deflection response</text>

<text transform="translate(24,657.3) rotate(-90)" font-size="18" text-anchor="middle" textLength="106" lengthAdjust="spacingAndGlyphs" ><tspan font-style="italic">Deflection</tspan>(m)</text>

<rect x="567.0" y="489.5" width="103.2" height="56.2" fill="#fff" stroke="#8a8a8a" stroke-width="1"/>
<path d="M569.4,499.5H594.0" stroke="#00ff00" stroke-width="2.3"/>
<path d="M569.4,517.7H594.0" stroke="#0000ff" stroke-width="2.3" stroke-dasharray="9.4 3 4.5 3.5"/>
<path d="M569.4,535.9H594.0" stroke="#ff0000" stroke-width="2.3" stroke-dasharray="2.2 2.8"/>
<text font-size="15" y="503.4"><tspan x="595.8" font-style="italic">ζ</tspan><tspan x="623.0">0</tspan></text>
<rect x="608.2" y="497.85" width="10.4" height="0.9" fill="#000"/><rect x="608.2" y="500.35" width="10.4" height="0.9" fill="#000"/>
<text font-size="15" y="521.4"><tspan x="595.8" font-style="italic">d</tspan><tspan x="603.4" dy="3" font-size="10.5">0</tspan><tspan x="609.8" dy="-3" font-size="17">(</tspan><tspan x="613.4" font-style="italic" font-size="15">ζ</tspan><tspan x="642.8">0.1</tspan><tspan x="661.8" font-size="17">)</tspan></text>
<rect x="625.8" y="515.85" width="10.4" height="0.9" fill="#000"/><rect x="625.8" y="518.35" width="10.4" height="0.9" fill="#000"/>
<text font-size="15" y="539.0"><tspan x="595.8" font-style="italic">d</tspan><tspan x="603.4" dy="3" font-size="10.5">0</tspan><tspan x="609.8" dy="-3" font-size="17">(</tspan><tspan x="613.4" font-style="italic" font-size="15">ζ</tspan><tspan x="642.8">0.2</tspan><tspan x="661.8" font-size="17">)</tspan></text>
<rect x="625.8" y="533.45" width="10.4" height="0.9" fill="#000"/><rect x="625.8" y="535.95" width="10.4" height="0.9" fill="#000"/>

<rect x="313.8" y="490.3" width="48.8" height="26.7" fill="none" stroke="#000" stroke-width="1.5"/>

<path d="M366.6,509.8L430.4,528.5" stroke="#000" stroke-width="1.6"/>
<path d="M436.2,530.2L427.1,531.0L430.4,528.5L429.0,524.6Z" fill="#000" stroke="#000" stroke-width="0.6" stroke-linejoin="miter"/>

<rect x="390" y="533.6" width="136.1" height="78.4" fill="#fff" stroke="#8a8a8a" stroke-width="1"/>
<path d="M424.4,612v-2.5M424.4,533.6v2.5" stroke="#999" stroke-width="0.8"/>
<text x="424.4" y="632.5" font-size="16" text-anchor="middle" >4.4</text>
<path d="M459.4,612v-2.5M459.4,533.6v2.5" stroke="#999" stroke-width="0.8"/>
<text x="459.4" y="632.5" font-size="16" text-anchor="middle" >4.5</text>
<path d="M494.4,612v-2.5M494.4,533.6v2.5" stroke="#999" stroke-width="0.8"/>
<text x="494.4" y="632.5" font-size="16" text-anchor="middle" >4.6</text>
<path d="M390,542.6h2.5M526.1,542.6h-2.5" stroke="#999" stroke-width="0.8"/>
<text x="385.1" y="548.0" font-size="16" text-anchor="end" >0.38</text>
<path d="M390,576.8h2.5M526.1,576.8h-2.5" stroke="#999" stroke-width="0.8"/>
<text x="385.1" y="582.2" font-size="16" text-anchor="end" >0.37</text>
<path d="M390,611.0h2.5M526.1,611.0h-2.5" stroke="#999" stroke-width="0.8"/>
<text x="385.1" y="616.4" font-size="16" text-anchor="end" >0.36</text>

<path d="M427.9,616.1 428.4,613.7 429.0,611.3 429.5,608.9 430.0,606.6 430.5,604.4 431.1,602.3 431.6,600.2 432.1,598.2 432.7,596.2 433.2,594.3 433.7,592.4 434.3,590.7 434.8,588.9 435.3,587.3 435.8,585.7 436.4,584.2 436.9,582.7 437.4,581.3 438.0,580.0 438.5,578.7 439.0,577.5 439.5,576.3 440.1,575.2 440.6,574.2 441.1,573.2 441.7,572.3 442.2,571.5 442.7,570.7 443.3,570.0 443.8,569.3 444.3,568.7 444.8,568.2 445.4,567.7 445.9,567.3 446.4,567.0 447.0,566.7 447.5,566.5 448.0,566.3 448.5,566.2 449.1,566.2 449.6,566.2 450.1,566.3 450.6,566.5 451.2,566.7 451.7,567.0 452.2,567.3 452.7,567.7 453.2,568.2 453.8,568.7 454.3,569.3 454.8,570.0 455.3,570.7 455.8,571.5 456.4,572.3 456.9,573.2 457.4,574.2 457.9,575.2 458.4,576.3 459.0,577.5 459.5,578.7 460.0,580.0 460.5,581.3 461.0,582.7 461.6,584.2 462.1,585.7 462.6,587.3 463.1,588.9 463.7,590.7 464.2,592.4 464.7,594.3 465.2,596.2 465.7,598.2 466.3,600.2 466.8,602.3 467.3,604.4 467.8,606.6 468.3,608.9 468.9,611.3 469.4,613.7 469.9,616.1" fill="none" stroke="#00ff00" stroke-width="2.0"  stroke-linejoin="round" clip-path="url(#i2)"/>

<path d="M425.8,616.1 426.4,613.1 426.9,610.1 427.5,607.2 428.1,604.4 428.7,601.7 429.2,599.0 429.8,596.5 430.4,594.0 431.0,591.5 431.5,589.2 432.1,586.9 432.7,584.7 433.3,582.6 433.8,580.6 434.4,578.6 435.0,576.7 435.5,574.9 436.1,573.2 436.7,571.5 437.3,570.0 437.8,568.5 438.4,567.0 439.0,565.7 439.6,564.4 440.1,563.2 440.7,562.1 441.3,561.1 441.8,560.1 442.4,559.2 443.0,558.4 443.6,557.7 444.1,557.0 444.7,556.5 445.3,556.0 445.9,555.5 446.4,555.2 447.0,554.9 447.6,554.7 448.2,554.6 448.7,554.6 449.3,554.6 449.9,554.7 450.4,554.9 451.0,555.2 451.6,555.5 452.2,556.0 452.7,556.5 453.3,557.0 453.9,557.7 454.5,558.4 455.0,559.2 455.6,560.1 456.2,561.1 456.7,562.1 457.3,563.2 457.9,564.4 458.5,565.7 459.0,567.0 459.6,568.5 460.2,570.0 460.8,571.5 461.3,573.2 461.9,574.9 462.5,576.7 463.1,578.6 463.6,580.6 464.2,582.6 464.8,584.7 465.3,586.9 465.9,589.2 466.5,591.5 467.1,594.0 467.6,596.5 468.2,599.0 468.8,601.7 469.4,604.4 469.9,607.2 470.5,610.1 471.1,613.1 471.7,616.1" fill="none" stroke="#0000ff" stroke-width="2.0" stroke-dasharray="8 3 3 3" stroke-linejoin="round" clip-path="url(#i2)"/>

<path d="M430.0,616.1 430.5,613.9 431.0,611.7 431.4,609.6 431.9,607.6 432.4,605.5 432.9,603.6 433.4,601.7 433.9,599.9 434.3,598.1 434.8,596.4 435.3,594.7 435.8,593.1 436.3,591.6 436.7,590.1 437.2,588.6 437.7,587.2 438.2,585.9 438.7,584.6 439.1,583.4 439.6,582.3 440.1,581.2 440.6,580.1 441.1,579.1 441.5,578.2 442.0,577.3 442.5,576.5 443.0,575.8 443.5,575.0 444.0,574.4 444.4,573.8 444.9,573.3 445.4,572.8 445.9,572.4 446.4,572.0 446.8,571.7 447.3,571.4 447.8,571.2 448.3,571.1 448.8,571.0 449.2,571.0 449.7,571.0 450.2,571.1 450.7,571.2 451.2,571.4 451.7,571.7 452.1,572.0 452.6,572.4 453.1,572.8 453.6,573.3 454.1,573.8 454.5,574.4 455.0,575.0 455.5,575.8 456.0,576.5 456.5,577.3 457.0,578.2 457.4,579.1 457.9,580.1 458.4,581.2 458.9,582.3 459.4,583.4 459.8,584.6 460.3,585.9 460.8,587.2 461.3,588.6 461.8,590.1 462.2,591.6 462.7,593.1 463.2,594.7 463.7,596.4 464.2,598.1 464.6,599.9 465.1,601.7 465.6,603.6 466.1,605.5 466.6,607.6 467.1,609.6 467.5,611.7 468.0,613.9 468.5,616.1" fill="none" stroke="#ff0000" stroke-width="2.0" stroke-dasharray="1.8 2.2" stroke-linejoin="round" clip-path="url(#i2)"/>

<rect x="62" y="950.3" width="614.6" height="348.5" fill="none" stroke="#8a8a8a" stroke-width="1"/>
<path d="M123.5,1298.8v-6M123.5,950.3v6" stroke="#888" stroke-width="1"/>
<path d="M184.9,1298.8v-6M184.9,950.3v6" stroke="#888" stroke-width="1"/>
<path d="M246.4,1298.8v-6M246.4,950.3v6" stroke="#888" stroke-width="1"/>
<path d="M307.8,1298.8v-6M307.8,950.3v6" stroke="#888" stroke-width="1"/>
<path d="M369.3,1298.8v-6M369.3,950.3v6" stroke="#888" stroke-width="1"/>
<path d="M430.8,1298.8v-6M430.8,950.3v6" stroke="#888" stroke-width="1"/>
<path d="M492.2,1298.8v-6M492.2,950.3v6" stroke="#888" stroke-width="1"/>
<path d="M553.7,1298.8v-6M553.7,950.3v6" stroke="#888" stroke-width="1"/>
<path d="M615.1,1298.8v-6M615.1,950.3v6" stroke="#888" stroke-width="1"/>
<path d="M62,1255.6h6M676.6,1255.6h-6" stroke="#888" stroke-width="1"/>
<path d="M62,1211.9h6M676.6,1211.9h-6" stroke="#888" stroke-width="1"/>
<path d="M62,1168.2h6M676.6,1168.2h-6" stroke="#888" stroke-width="1"/>
<path d="M62,1124.5h6M676.6,1124.5h-6" stroke="#888" stroke-width="1"/>
<path d="M62,1080.8h6M676.6,1080.8h-6" stroke="#888" stroke-width="1"/>
<path d="M62,1037.1h6M676.6,1037.1h-6" stroke="#888" stroke-width="1"/>
<path d="M62,993.4h6M676.6,993.4h-6" stroke="#888" stroke-width="1"/>

<path d="M62.0,1168.2 63.1,1143.2 63.5,1138.5 63.8,1136.7 64.2,1137.6 64.6,1140.0 66.1,1155.1 66.8,1159.4 67.0,1159.4 67.3,1159.2 67.9,1157.8 70.5,1148.2 71.0,1147.3 71.2,1147.2 71.5,1147.4 72.0,1148.3 72.6,1150.7 75.5,1166.5 79.2,1179.1 80.7,1183.3 81.9,1186.1 83.0,1188.0 86.5,1192.8 88.6,1195.3 90.4,1197.0 92.2,1198.2 94.1,1198.8 95.2,1198.6 96.3,1197.6 97.5,1195.6 99.0,1192.3 104.3,1177.3 109.3,1159.7 110.9,1154.9 112.2,1152.1 115.2,1146.8 116.8,1142.4 118.1,1134.4 120.4,1111.7 121.4,1104.0 123.8,1091.8 124.7,1089.3 125.1,1088.8 125.4,1088.7 126.2,1090.2 127.0,1094.1 129.5,1110.8 130.8,1125.5 134.6,1175.9 135.6,1184.8 137.3,1194.9 138.6,1200.1 140.1,1204.8 141.5,1208.6 145.3,1217.2 149.0,1228.0 150.5,1231.7 151.6,1233.7 152.7,1234.6 153.8,1234.4 155.2,1233.2 157.3,1230.5 158.9,1227.4 160.6,1222.7 162.2,1217.0 163.4,1209.5 166.4,1185.5 170.7,1158.9 173.4,1146.3 175.7,1137.7 177.8,1131.5 178.9,1126.6 180.0,1116.0 182.3,1085.3 183.3,1068.9 184.3,1046.1 185.4,1034.8 185.8,1032.6 186.1,1031.9 186.5,1033.0 186.9,1036.0 187.9,1049.1 191.1,1125.2 192.7,1152.7 193.9,1179.0 194.8,1190.2 196.6,1208.6 197.1,1212.0 197.5,1213.3 198.1,1214.6 200.0,1217.5 201.5,1221.9 203.7,1230.9 205.8,1242.1 206.7,1245.5 208.5,1249.3 210.0,1251.4 210.7,1251.9 211.3,1252.1 212.0,1251.9 212.6,1251.5 213.6,1250.3 215.2,1247.9 216.9,1244.2 218.7,1238.2 220.6,1230.3 221.8,1221.1 224.7,1191.3 229.2,1157.5 231.8,1142.7 234.1,1132.0 236.3,1123.8 237.4,1117.4 238.5,1103.7 240.8,1065.4 241.7,1047.7 242.8,1017.0 243.9,1003.4 244.3,1001.1 244.7,1000.4 245.0,1002.0 245.4,1005.6 246.4,1020.3 249.7,1109.3 251.4,1142.8 252.6,1172.6 253.6,1187.1 255.5,1207.8 256.3,1213.3 257.1,1215.1 259.0,1218.3 260.6,1223.6 263.0,1234.3 265.1,1247.0 266.0,1251.4 267.8,1255.4 269.2,1258.0 270.0,1258.7 270.6,1259.1 271.2,1259.1 271.8,1258.7 273.1,1257.4 274.8,1254.6 276.5,1250.8 278.5,1244.2 280.4,1235.2 281.8,1224.4 284.9,1191.7 289.3,1155.8 290.6,1146.8 292.1,1138.6 294.4,1127.3 296.7,1118.7 297.8,1112.3 298.9,1098.7 301.3,1056.5 302.3,1035.4 303.4,1002.2 304.5,987.2 305.0,983.6 305.4,983.0 305.8,984.7 306.1,988.5 307.1,1004.3 310.4,1100.1 312.1,1136.2 313.4,1168.2 314.4,1183.8 316.2,1206.0 317.1,1212.0 317.8,1213.9 319.8,1217.3 321.4,1223.1 323.7,1234.6 325.8,1248.3 326.8,1253.0 328.5,1257.4 330.0,1260.1 331.2,1261.2 331.8,1261.3 332.4,1261.0 333.7,1259.7 335.4,1257.0 337.2,1253.0 339.3,1246.0 341.3,1237.0 342.6,1226.1 345.7,1193.0 350.2,1155.7 353.0,1138.9 355.5,1126.3 357.9,1117.0 359.0,1110.2 360.1,1095.8 362.5,1052.9 363.5,1031.3 364.6,997.9 365.7,983.0 366.2,979.4 366.6,978.8 367.0,980.7 367.3,984.9 368.3,1002.4 371.4,1097.0 373.1,1135.6 374.2,1166.4 375.1,1181.3 376.9,1205.2 377.4,1209.8 377.8,1211.7 378.5,1213.6 380.4,1217.0 382.0,1223.2 384.2,1234.8 386.1,1248.5 387.0,1253.0 388.6,1257.4 390.1,1260.4 391.3,1261.6 391.8,1261.7 392.4,1261.5 393.4,1260.7 394.7,1258.8 396.2,1256.3 397.3,1253.8 399.5,1246.7 401.6,1237.5 403.0,1227.2 406.3,1192.5 411.0,1155.2 413.8,1138.2 416.4,1126.0 418.7,1116.9 419.8,1110.5 420.9,1097.1 423.5,1053.5 424.6,1029.8 425.7,997.1 426.8,982.3 427.3,978.6 427.7,977.7 428.1,979.1 428.4,982.8 429.4,998.9 432.7,1098.4 434.3,1133.0 435.6,1166.3 436.5,1182.7 438.4,1205.9 438.9,1210.2 439.2,1211.9 440.0,1213.9 441.8,1217.2 443.4,1223.1 445.8,1235.1 447.8,1249.3 448.7,1253.6 450.3,1257.9 451.7,1260.6 452.9,1262.0 453.4,1262.1 454.0,1262.0 455.1,1261.2 456.3,1259.5 457.8,1257.0 459.0,1254.2 461.2,1247.0 463.3,1237.6 464.7,1226.8 467.9,1192.9 472.6,1155.1 473.9,1146.2 475.4,1138.0 477.8,1126.2 480.2,1117.1 481.3,1110.4 482.4,1096.6 485.0,1052.2 486.0,1030.9 487.1,997.5 488.2,982.4 488.7,978.6 489.0,977.7 489.4,979.1 489.8,982.8 490.7,998.7 494.1,1097.7 495.8,1135.1 497.0,1168.1 497.9,1182.1 499.7,1205.3 500.6,1211.8 501.3,1213.7 503.3,1217.3 504.9,1223.3 507.1,1234.6 509.3,1249.5 510.2,1253.7 511.8,1257.9 513.1,1260.6 514.3,1262.0 514.8,1262.1 515.5,1262.0 516.6,1261.2 517.8,1259.4 519.3,1257.0 520.5,1254.2 522.7,1246.9 524.8,1237.3 526.1,1226.3 529.2,1193.3 533.9,1155.3 535.2,1146.3 536.7,1138.1 539.2,1126.2 541.5,1117.0 542.6,1110.3 543.7,1096.2 546.3,1051.4 547.3,1029.7 548.4,996.6 549.5,981.9 550.0,978.3 550.4,977.7 550.7,979.6 551.1,983.7 552.1,1000.9 555.3,1098.3 556.9,1133.4 558.1,1167.0 559.0,1181.6 560.8,1205.3 561.7,1211.8 562.4,1213.8 563.8,1216.0 564.4,1217.4 566.0,1223.7 568.2,1235.3 570.2,1248.9 571.0,1253.4 572.5,1257.5 573.8,1260.3 575.1,1261.9 575.6,1262.1 576.2,1262.1 577.2,1261.4 578.4,1259.9 580.1,1257.1 581.3,1254.4 583.5,1247.4 585.8,1237.6 587.1,1227.0 590.3,1193.3 595.0,1155.9 597.8,1138.8 600.4,1126.5 602.7,1117.4 604.0,1110.2 605.1,1096.3 607.6,1052.4 608.6,1031.4 609.9,996.1 611.0,981.7 611.5,978.3 611.8,977.7 612.2,979.6 612.6,983.6 613.5,1000.4 616.7,1096.7 618.5,1134.4 619.7,1167.6 620.5,1181.9 622.4,1205.2 623.3,1211.7 624.0,1213.7 626.0,1217.3 627.6,1223.4 629.8,1234.7 631.9,1248.9 632.7,1253.4 634.2,1257.4 635.5,1260.3 636.8,1261.8 637.4,1262.1 637.9,1262.1 638.9,1261.5 640.1,1260.0 641.8,1257.2 643.0,1254.5 645.3,1247.4 647.5,1237.5 648.8,1226.8 652.0,1193.0 656.7,1155.4 659.5,1138.3 662.0,1126.5 664.3,1117.4 665.5,1110.1 666.6,1096.1 669.2,1051.7 670.2,1030.5 671.3,997.3 672.2,985.1 672.8,979.3 673.2,977.8 673.3,977.7 673.4,977.9 673.9,981.9 675.2,1002.6 676.2,1021.4" fill="none" stroke="#00ff00" stroke-width="2.5"  stroke-linejoin="round" clip-path="url(#c3)"/>
<path d="M62.0,1168.2 63.1,1143.2 63.5,1138.5 63.8,1136.7 64.2,1137.6 64.6,1140.0 66.1,1155.1 66.8,1159.4 67.0,1159.4 67.3,1159.2 67.9,1157.8 70.5,1148.2 71.0,1147.3 71.2,1147.2 71.5,1147.4 72.0,1148.3 72.6,1150.7 75.5,1166.5 79.2,1179.1 80.7,1183.3 81.9,1186.1 83.0,1188.0 86.5,1192.8 88.6,1195.3 90.4,1197.0 92.2,1198.2 94.1,1198.8 95.2,1198.6 96.3,1197.6 97.5,1195.6 99.0,1192.3 104.3,1177.3 109.3,1159.7 110.9,1154.9 112.2,1152.1 115.2,1146.8 116.8,1142.4 118.1,1134.4 120.4,1111.7 121.4,1104.0 123.8,1091.8 124.7,1089.3 125.1,1088.8 125.4,1088.7 126.2,1090.2 127.0,1094.1 129.5,1110.8 130.8,1125.5 134.6,1175.9 135.6,1184.8 137.3,1194.9 138.6,1200.1 140.1,1204.8 141.5,1208.6 145.3,1217.2 149.0,1228.0 150.5,1231.7 151.6,1233.7 152.7,1234.6 153.8,1234.4 155.2,1233.2 157.3,1230.5 158.9,1227.4 160.6,1222.7 162.2,1217.0 163.4,1209.5 166.4,1185.5 170.7,1158.9 173.4,1146.3 175.7,1137.7 177.8,1131.5 178.9,1126.6 180.0,1116.0 182.3,1085.3 183.3,1068.9 184.3,1046.1 185.4,1033.9 185.8,1031.6 186.1,1030.7 186.5,1032.0 186.9,1035.3 187.9,1049.2 191.1,1125.6 192.7,1153.1 193.9,1179.5 194.9,1192.1 196.7,1210.2 197.5,1213.9 198.1,1215.2 199.9,1217.8 201.4,1222.1 203.7,1231.5 205.8,1242.8 206.8,1246.5 208.8,1250.4 210.2,1252.3 211.0,1252.8 211.6,1252.8 212.5,1252.5 213.3,1251.8 215.4,1249.3 216.9,1246.1 218.7,1240.0 220.6,1231.9 221.8,1222.6 224.7,1192.7 229.2,1158.5 231.8,1143.6 234.1,1132.9 236.3,1124.7 237.4,1118.2 238.5,1104.4 240.8,1065.9 241.7,1048.1 242.8,1017.1 243.9,1001.3 244.3,998.4 244.7,997.7 245.0,999.6 245.4,1003.9 246.4,1020.6 249.7,1110.1 251.4,1143.9 252.6,1173.9 253.6,1188.4 255.5,1209.3 256.3,1214.9 257.1,1216.6 259.0,1219.8 260.6,1225.2 263.0,1236.0 265.1,1248.8 266.0,1253.2 267.9,1257.5 269.5,1260.1 270.2,1260.8 270.8,1261.0 271.5,1260.9 272.2,1260.4 273.3,1259.3 274.9,1257.1 276.5,1253.6 278.5,1246.8 280.4,1237.7 281.8,1226.8 284.9,1193.7 289.3,1157.5 292.0,1140.7 294.4,1128.7 296.8,1119.4 297.9,1112.5 299.0,1097.9 301.4,1054.8 302.3,1035.9 303.5,1000.2 304.6,983.0 305.0,979.8 305.4,979.0 305.8,981.2 306.1,986.1 307.1,1004.8 310.4,1101.3 312.1,1137.7 313.4,1170.0 314.4,1185.8 316.2,1208.2 317.1,1214.3 317.8,1216.2 319.8,1219.7 321.4,1225.5 323.7,1237.1 325.8,1250.9 326.8,1255.7 328.5,1260.1 330.0,1262.8 331.2,1263.9 331.8,1264.0 332.4,1263.8 333.7,1262.5 335.4,1260.0 337.1,1256.3 339.2,1249.3 341.3,1239.7 342.6,1228.7 345.7,1195.3 350.2,1157.6 353.0,1140.6 355.5,1127.9 357.9,1118.5 359.0,1111.5 360.1,1097.0 362.5,1053.7 363.5,1031.9 364.9,993.8 365.9,978.5 366.2,975.3 366.5,974.5 366.6,974.5 367.2,980.3 368.2,999.8 371.4,1098.2 373.1,1137.2 374.2,1168.4 375.1,1183.5 376.9,1207.6 377.4,1212.2 377.8,1214.1 378.5,1216.1 380.4,1219.5 382.0,1225.8 384.2,1237.5 386.1,1251.3 387.0,1255.9 388.6,1260.4 390.1,1263.3 391.3,1264.6 391.8,1264.7 392.4,1264.5 393.5,1263.5 394.9,1261.6 396.2,1259.3 397.3,1256.8 399.5,1249.6 401.6,1240.3 403.0,1229.9 406.3,1194.8 411.0,1157.1 413.8,1139.9 416.4,1127.6 418.7,1118.4 419.8,1111.9 420.9,1098.4 423.5,1054.3 424.6,1030.4 426.0,993.0 426.9,977.9 427.3,974.5 427.7,973.3 428.1,975.1 428.4,979.9 429.4,999.4 432.7,1099.7 434.3,1134.6 435.6,1168.3 436.5,1184.9 438.4,1208.4 438.9,1212.7 439.2,1214.5 440.0,1216.4 441.8,1219.7 443.4,1225.7 445.8,1237.8 447.8,1252.2 448.7,1256.6 450.3,1260.9 451.7,1263.6 452.9,1265.0 453.4,1265.2 454.0,1265.1 455.1,1264.2 456.3,1262.5 457.8,1260.0 459.0,1257.2 461.2,1249.9 463.3,1240.4 464.7,1229.5 467.9,1195.2 472.6,1157.0 473.9,1148.0 475.4,1139.8 477.8,1127.8 480.2,1118.6 481.3,1111.9 482.4,1097.9 485.0,1053.0 486.0,1031.4 487.3,993.4 488.3,978.0 488.7,974.6 489.0,973.3 489.4,975.1 489.8,979.9 490.7,999.2 494.1,1099.0 495.8,1136.8 496.9,1167.5 497.9,1184.3 499.7,1207.8 500.6,1214.3 501.3,1216.3 503.3,1219.9 504.9,1226.0 507.1,1237.3 509.3,1252.4 510.2,1256.7 511.8,1260.9 513.1,1263.6 514.3,1265.0 514.8,1265.2 515.5,1265.1 516.6,1264.2 517.8,1262.5 519.3,1260.0 520.5,1257.1 522.7,1249.8 524.8,1240.1 526.1,1228.9 529.2,1195.6 533.9,1157.2 535.2,1148.1 536.7,1139.8 539.2,1127.8 541.5,1118.5 542.6,1111.7 543.7,1097.5 546.2,1054.6 547.3,1030.2 548.1,1002.7 548.6,992.4 549.6,977.3 550.0,974.2 550.2,973.3 550.4,973.4 551.0,979.1 552.0,998.4 555.3,1099.6 556.9,1135.1 558.1,1169.0 559.0,1183.8 560.8,1207.7 561.7,1214.3 562.4,1216.3 563.8,1218.6 564.4,1220.0 566.0,1226.3 568.2,1238.0 570.2,1251.8 571.0,1256.4 572.5,1260.5 573.8,1263.4 575.1,1264.9 575.6,1265.2 576.2,1265.2 577.2,1264.5 578.4,1262.9 580.1,1260.1 581.3,1257.4 583.5,1250.3 585.8,1240.4 587.1,1229.7 590.3,1195.7 595.0,1157.8 597.8,1140.5 600.4,1128.1 602.7,1118.9 604.0,1111.6 605.1,1097.6 607.6,1053.2 608.6,1032.0 609.6,1001.7 610.1,991.9 611.1,977.2 611.5,974.2 611.8,973.4 612.4,979.0 613.5,1000.9 616.7,1098.0 618.5,1136.1 619.7,1169.7 620.5,1184.1 622.4,1207.7 623.3,1214.3 624.0,1216.3 626.0,1219.9 627.6,1226.0 629.8,1237.5 631.9,1251.8 632.7,1256.3 634.2,1260.4 635.5,1263.3 636.8,1264.9 637.4,1265.2 637.9,1265.2 638.9,1264.5 640.1,1263.0 641.8,1260.2 643.0,1257.4 645.3,1250.3 647.5,1240.3 648.8,1229.5 652.0,1195.3 656.7,1157.3 659.5,1140.0 662.0,1128.1 664.3,1118.9 665.5,1111.5 666.6,1097.4 668.9,1059.6 670.2,1031.0 671.3,997.7 672.3,981.1 672.9,974.5 673.2,973.4 673.3,973.3 673.4,973.4 674.0,977.5 674.6,987.0 675.2,1001.7" fill="none" stroke="#0000ff" stroke-width="2.5" stroke-dasharray="9.8 2.7 4.8 2.7" stroke-linejoin="round" clip-path="url(#c3)"/>
<path d="M62.0,1168.2 63.1,1143.2 63.5,1138.5 63.8,1136.7 64.2,1137.6 64.6,1140.0 66.1,1155.1 66.8,1159.4 67.0,1159.4 67.3,1159.2 67.9,1157.8 70.5,1148.2 71.0,1147.3 71.2,1147.2 71.5,1147.4 72.0,1148.3 72.6,1150.7 75.5,1166.5 79.2,1179.1 80.7,1183.3 81.9,1186.1 83.0,1188.0 86.5,1192.8 88.6,1195.3 90.4,1197.0 92.2,1198.2 94.1,1198.8 95.2,1198.6 96.3,1197.6 97.5,1195.6 99.0,1192.3 104.3,1177.3 109.3,1159.7 110.9,1154.9 112.2,1152.1 115.2,1146.8 116.8,1142.4 118.1,1134.4 120.4,1111.7 121.4,1104.0 123.8,1091.8 124.7,1089.3 125.1,1088.8 125.4,1088.7 126.2,1090.2 127.0,1094.1 129.5,1110.8 130.8,1125.5 134.6,1175.9 135.6,1184.8 137.3,1194.9 138.6,1200.1 140.1,1204.8 141.5,1208.6 145.3,1217.2 149.0,1228.0 150.5,1231.7 151.6,1233.7 152.7,1234.6 153.8,1234.4 155.2,1233.2 157.3,1230.5 158.9,1227.4 160.6,1222.7 162.2,1217.0 163.4,1209.5 166.4,1185.5 170.7,1158.9 173.4,1146.3 175.7,1137.7 177.8,1131.5 178.9,1126.6 180.0,1116.0 182.3,1085.3 183.3,1068.9 184.3,1046.1 185.3,1035.9 185.8,1033.0 186.1,1032.2 186.5,1033.3 186.9,1036.3 187.9,1049.1 191.1,1125.6 192.7,1153.1 193.9,1179.5 194.9,1192.1 196.7,1210.2 197.5,1213.9 198.1,1215.2 199.9,1217.8 201.4,1222.1 203.7,1231.5 205.8,1242.8 206.8,1246.5 208.8,1250.4 210.2,1252.3 211.0,1252.8 211.6,1252.8 212.3,1252.5 213.2,1251.9 215.4,1249.3 216.9,1246.1 218.7,1240.0 220.6,1231.9 221.8,1222.6 224.7,1192.7 229.2,1158.5 231.8,1143.6 234.1,1132.9 236.3,1124.7 237.4,1118.2 238.5,1104.4 240.8,1065.9 241.7,1048.1 242.8,1017.1 243.8,1005.2 244.3,1001.9 244.7,1001.3 245.0,1002.8 245.4,1006.2 246.4,1020.4 249.7,1110.1 251.4,1143.9 252.6,1173.9 253.6,1188.4 255.5,1209.3 256.3,1214.9 257.1,1216.6 259.0,1219.8 260.6,1225.2 263.0,1236.0 265.1,1248.8 266.0,1253.2 267.9,1257.5 269.4,1260.0 270.1,1260.7 270.7,1261.0 271.3,1260.9 272.1,1260.5 273.2,1259.5 274.8,1257.3 276.4,1253.9 278.3,1247.3 280.4,1237.7 281.8,1226.8 284.9,1193.7 289.3,1157.5 290.6,1148.4 292.1,1140.1 294.4,1128.7 296.7,1120.0 297.8,1113.5 298.9,1099.9 301.3,1057.2 302.3,1035.9 303.4,1002.3 304.5,988.1 305.0,984.7 305.4,984.1 305.8,985.8 306.1,989.3 307.1,1004.4 310.4,1101.3 312.1,1137.7 313.4,1170.0 314.4,1185.8 316.2,1208.2 317.1,1214.3 317.8,1216.2 319.8,1219.7 321.4,1225.5 323.7,1237.1 325.8,1250.9 326.8,1255.7 328.5,1260.1 330.0,1262.8 331.2,1263.9 331.8,1264.0 332.4,1263.8 333.7,1262.5 335.4,1260.0 337.1,1256.3 339.2,1249.3 341.3,1239.7 342.6,1228.7 345.7,1195.3 350.4,1156.7 351.7,1147.6 353.2,1139.3 355.5,1127.9 357.7,1119.1 358.9,1112.6 360.0,1099.0 362.5,1053.7 363.5,1031.9 364.6,998.1 365.7,984.0 366.2,980.6 366.6,980.0 367.0,981.8 367.3,985.7 368.3,1002.5 371.4,1098.2 373.1,1137.2 374.2,1168.4 375.1,1183.5 376.9,1207.6 377.4,1212.2 377.8,1214.1 378.5,1216.1 380.4,1219.5 382.0,1225.8 384.2,1237.5 386.1,1251.3 387.0,1255.9 388.6,1260.4 390.1,1263.3 391.3,1264.6 391.8,1264.7 392.4,1264.5 393.5,1263.5 394.9,1261.6 396.2,1259.3 397.3,1256.8 399.5,1249.6 401.6,1240.3 403.0,1229.9 406.3,1194.8 411.0,1157.1 413.8,1139.9 416.4,1127.6 418.7,1118.4 419.8,1111.9 420.9,1098.4 423.5,1054.3 424.6,1030.4 425.7,997.3 426.8,983.3 427.3,979.8 427.7,979.0 428.1,980.3 428.4,983.7 429.4,999.0 432.7,1099.7 434.3,1134.6 435.6,1168.3 436.5,1184.9 438.4,1208.4 438.9,1212.7 439.2,1214.5 440.0,1216.4 441.8,1219.7 443.4,1225.7 445.8,1237.8 447.8,1252.2 448.7,1256.6 450.3,1260.9 451.7,1263.6 452.9,1265.0 453.4,1265.2 454.0,1265.1 455.1,1264.2 456.3,1262.5 457.8,1260.0 459.0,1257.2 461.2,1249.9 463.3,1240.4 464.7,1229.5 467.9,1195.2 472.6,1157.0 473.9,1148.0 475.4,1139.8 477.8,1127.8 480.2,1118.6 481.3,1111.9 482.4,1097.9 485.0,1053.0 486.0,1031.4 487.1,997.7 488.2,983.4 488.7,979.9 489.0,979.0 489.4,980.3 489.8,983.7 490.7,998.9 494.1,1099.0 495.8,1136.8 497.0,1170.1 497.9,1184.3 499.7,1207.8 500.6,1214.3 501.3,1216.3 503.3,1219.9 504.9,1226.0 507.1,1237.3 509.3,1252.4 510.2,1256.7 511.8,1260.9 513.1,1263.6 514.3,1265.0 514.8,1265.2 515.5,1265.1 516.6,1264.2 517.8,1262.5 519.3,1260.0 520.5,1257.1 522.7,1249.8 524.8,1240.1 526.1,1228.9 529.2,1195.6 533.9,1157.2 535.2,1148.1 536.7,1139.8 539.2,1127.8 541.5,1118.5 542.6,1111.7 543.7,1097.5 546.3,1052.1 547.3,1030.2 548.4,996.8 549.5,982.9 550.0,979.6 550.4,979.0 550.7,980.8 551.1,984.6 552.1,1001.0 555.3,1099.6 556.9,1135.1 558.1,1169.0 559.0,1183.8 560.8,1207.7 561.7,1214.3 562.4,1216.3 563.8,1218.6 564.4,1220.0 566.0,1226.3 568.2,1238.0 570.2,1251.8 571.0,1256.4 572.5,1260.5 573.8,1263.4 575.1,1264.9 575.6,1265.2 576.2,1265.2 577.2,1264.5 578.4,1262.9 580.1,1260.1 581.3,1257.4 583.5,1250.3 585.8,1240.4 587.1,1229.7 590.3,1195.7 595.0,1157.8 597.8,1140.5 600.4,1128.1 602.7,1118.9 604.0,1111.6 605.1,1097.6 607.6,1053.2 608.6,1032.0 609.7,998.4 611.0,982.8 611.5,979.6 611.8,979.0 612.2,980.7 612.6,984.5 613.5,1000.5 616.7,1098.0 618.5,1136.1 619.7,1169.7 620.5,1184.1 622.4,1207.7 623.3,1214.3 624.0,1216.3 626.0,1219.9 627.6,1226.0 629.8,1237.5 631.9,1251.8 632.7,1256.3 634.2,1260.4 635.5,1263.3 636.8,1264.9 637.4,1265.2 637.9,1265.2 639.0,1264.4 640.3,1262.6 641.9,1259.9 643.3,1256.8 644.5,1253.0 645.7,1248.3 647.8,1238.0 648.9,1228.3 651.9,1196.4 656.6,1158.2 659.1,1142.0 662.0,1128.1 664.4,1118.4 665.3,1113.4 665.8,1109.1 666.8,1095.4 668.9,1059.6 670.2,1031.0 671.2,1000.1 672.5,982.3 672.9,979.9 673.3,979.0 673.5,979.4 673.9,981.3 674.5,988.1 675.2,1001.7" fill="none" stroke="#ff0000" stroke-width="2.5" stroke-dasharray="2.3 2.7" stroke-linejoin="round" clip-path="url(#c3)"/>

<text x="55.8" y="1305.1" font-size="16" text-anchor="end" >-1.5</text>

<text x="55.8" y="1261.4" font-size="16" text-anchor="end" >-1</text>

<text x="55.8" y="1217.7" font-size="16" text-anchor="end" >-0.5</text>

<text x="55.8" y="1174.0" font-size="16" text-anchor="end" >0</text>

<text x="55.8" y="1130.3" font-size="16" text-anchor="end" >0.5</text>

<text x="55.8" y="1086.6" font-size="16" text-anchor="end" >1</text>

<text x="55.8" y="1042.9" font-size="16" text-anchor="end" >1.5</text>

<text x="55.8" y="999.2" font-size="16" text-anchor="end" >2</text>

<text x="55.8" y="955.5" font-size="16" text-anchor="end" >2.5</text>

<text x="62.0" y="1319.2" font-size="16" text-anchor="middle" >0</text>

<text x="123.5" y="1319.2" font-size="16" text-anchor="middle" >1</text>

<text x="184.9" y="1319.2" font-size="16" text-anchor="middle" >2</text>

<text x="246.4" y="1319.2" font-size="16" text-anchor="middle" >3</text>

<text x="307.8" y="1319.2" font-size="16" text-anchor="middle" >4</text>

<text x="369.3" y="1319.2" font-size="16" text-anchor="middle" >5</text>

<text x="430.8" y="1319.2" font-size="16" text-anchor="middle" >6</text>

<text x="492.2" y="1319.2" font-size="16" text-anchor="middle" >7</text>

<text x="553.7" y="1319.2" font-size="16" text-anchor="middle" >8</text>

<text x="615.1" y="1319.2" font-size="16" text-anchor="middle" >9</text>

<text x="676.6" y="1319.2" font-size="16" text-anchor="middle" >10</text>

<text x="369.4" y="1338.2" font-size="19" text-anchor="middle" textLength="61" lengthAdjust="spacingAndGlyphs">Time(s)</text>

<text x="362.0" y="1373.5" font-size="24.3" text-anchor="middle" >(c) Wheel relative dynamic load response</text>

<text transform="translate(21.5,1123.3) rotate(-90)" font-size="18" text-anchor="middle" textLength="182" lengthAdjust="spacingAndGlyphs" font-style="italic" word-spacing="4">Relative Dynamic Load</text>

<rect x="566.8" y="957.1" width="103.2" height="56.2" fill="#fff" stroke="#8a8a8a" stroke-width="1"/>
<path d="M569.2,967.1H593.8" stroke="#00ff00" stroke-width="2.3"/>
<path d="M569.2,985.3H593.8" stroke="#0000ff" stroke-width="2.3" stroke-dasharray="9.4 3 4.5 3.5"/>
<path d="M569.2,1003.5H593.8" stroke="#ff0000" stroke-width="2.3" stroke-dasharray="2.2 2.8"/>
<text font-size="15" y="971.0"><tspan x="595.6" font-style="italic">ζ</tspan><tspan x="622.8">0</tspan></text>
<rect x="608.0" y="965.45" width="10.4" height="0.9" fill="#000"/><rect x="608.0" y="967.95" width="10.4" height="0.9" fill="#000"/>
<text font-size="15" y="989.0"><tspan x="595.6" font-style="italic">d</tspan><tspan x="603.2" dy="3" font-size="10.5">0</tspan><tspan x="609.6" dy="-3" font-size="17">(</tspan><tspan x="613.2" font-style="italic" font-size="15">ζ</tspan><tspan x="642.6">0.1</tspan><tspan x="661.6" font-size="17">)</tspan></text>
<rect x="625.6" y="983.45" width="10.4" height="0.9" fill="#000"/><rect x="625.6" y="985.95" width="10.4" height="0.9" fill="#000"/>
<text font-size="15" y="1006.6"><tspan x="595.6" font-style="italic">d</tspan><tspan x="603.2" dy="3" font-size="10.5">0</tspan><tspan x="609.6" dy="-3" font-size="17">(</tspan><tspan x="613.2" font-style="italic" font-size="15">ζ</tspan><tspan x="642.6">0.2</tspan><tspan x="661.6" font-size="17">)</tspan></text>
<rect x="625.6" y="1001.05" width="10.4" height="0.9" fill="#000"/><rect x="625.6" y="1003.55" width="10.4" height="0.9" fill="#000"/>

<rect x="348" y="968.2" width="37.2" height="23.8" fill="none" stroke="#000" stroke-width="1.5"/>

<path d="M392.7,982.7L448.2,996.5" stroke="#000" stroke-width="1.6"/>
<path d="M454.0,998.0L445.0,999.1L448.2,996.5L446.6,992.7Z" fill="#000" stroke="#000" stroke-width="0.6" stroke-linejoin="miter"/>

<rect x="375.2" y="1247.9" width="38.0" height="23.9" fill="none" stroke="#000" stroke-width="1.5"/>

<path d="M409.2,1243.0L424.0,1211.4" stroke="#000" stroke-width="1.6"/>
<path d="M426.6,1206.0L426.0,1215.1L424.0,1211.4L420.0,1212.3Z" fill="#000" stroke="#000" stroke-width="0.6" stroke-linejoin="miter"/>

<rect x="468.4" y="999.6" width="78.1" height="44.7" fill="#fff" stroke="#8a8a8a" stroke-width="1"/>
<path d="M471.5,1044.3v-2.5M471.5,999.6v2.5" stroke="#999" stroke-width="0.8"/>
<text x="471.5" y="1065.5" font-size="16" text-anchor="middle" >4.8</text>
<path d="M511.8,1044.3v-2.5M511.8,999.6v2.5" stroke="#999" stroke-width="0.8"/>
<text x="511.8" y="1065.5" font-size="16" text-anchor="middle" >5</text>
<path d="M468.4,1012.4h2.5M546.5,1012.4h-2.5" stroke="#999" stroke-width="0.8"/>
<text x="462.4" y="1017.8" font-size="16" text-anchor="end" >2.2</text>
<path d="M468.4,1026.8h2.5M546.5,1026.8h-2.5" stroke="#999" stroke-width="0.8"/>
<text x="462.4" y="1032.2" font-size="16" text-anchor="end" >2.15</text>
<path d="M468.4,1041.2h2.5M546.5,1041.2h-2.5" stroke="#999" stroke-width="0.8"/>
<text x="462.4" y="1046.6" font-size="16" text-anchor="end" >2.1</text>

<path d="M497.9,1047.0 498.0,1045.8 498.1,1044.7 498.3,1043.6 498.4,1042.6 498.5,1041.5 498.6,1040.5 498.7,1039.5 498.9,1038.6 499.0,1037.6 499.1,1036.7 499.2,1035.8 499.3,1035.0 499.5,1034.1 499.6,1033.3 499.7,1032.5 499.8,1031.7 500.0,1031.0 500.1,1030.3 500.2,1029.6 500.3,1028.9 500.4,1028.3 500.6,1027.6 500.7,1027.0 500.8,1026.5 500.9,1026.0 501.0,1025.4 501.2,1025.0 501.3,1024.5 501.4,1024.1 501.5,1023.7 501.6,1023.3 501.8,1023.0 501.9,1022.7 502.0,1022.4 502.1,1022.2 502.2,1022.0 502.4,1021.9 502.5,1021.7 502.6,1021.6 502.7,1021.6 502.9,1021.6 503.0,1021.7 503.1,1021.9 503.2,1022.0 503.3,1022.2 503.5,1022.4 503.6,1022.7 503.7,1023.0 503.8,1023.3 503.9,1023.7 504.1,1024.1 504.2,1024.5 504.3,1025.0 504.4,1025.4 504.5,1026.0 504.7,1026.5 504.8,1027.0 504.9,1027.6 505.0,1028.3 505.2,1028.9 505.3,1029.6 505.4,1030.3 505.5,1031.0 505.6,1031.7 505.8,1032.5 505.9,1033.3 506.0,1034.1 506.1,1035.0 506.2,1035.8 506.4,1036.7 506.5,1037.6 506.6,1038.6 506.7,1039.5 506.8,1040.5 507.0,1041.5 507.1,1042.6 507.2,1043.6 507.3,1044.7 507.4,1045.8 507.6,1047.0" fill="none" stroke="#00ff00" stroke-width="2.0"  stroke-linejoin="round" clip-path="url(#i3)"/>

<path d="M497.3,1047.0 497.5,1045.0 497.6,1043.1 497.8,1041.2 498.0,1039.3 498.1,1037.5 498.3,1035.8 498.5,1034.1 498.6,1032.4 498.8,1030.8 499.0,1029.3 499.1,1027.7 499.3,1026.3 499.5,1024.8 499.6,1023.5 499.8,1022.1 500.0,1020.8 500.1,1019.6 500.3,1018.4 500.5,1017.3 500.6,1016.2 500.8,1015.1 500.9,1014.1 501.1,1013.2 501.3,1012.3 501.4,1011.4 501.6,1010.6 501.8,1009.9 501.9,1009.2 502.1,1008.5 502.3,1007.9 502.4,1007.4 502.6,1006.9 502.8,1006.4 502.9,1006.1 503.1,1005.7 503.3,1005.4 503.4,1005.2 503.6,1005.1 503.8,1005.0 503.9,1004.9 504.1,1005.0 504.3,1005.1 504.4,1005.2 504.6,1005.4 504.7,1005.7 504.9,1006.1 505.0,1006.4 505.2,1006.9 505.3,1007.4 505.5,1007.9 505.7,1008.5 505.8,1009.2 506.0,1009.9 506.1,1010.6 506.3,1011.4 506.4,1012.3 506.6,1013.2 506.8,1014.1 506.9,1015.1 507.1,1016.2 507.2,1017.3 507.4,1018.4 507.5,1019.6 507.7,1020.8 507.8,1022.1 508.0,1023.5 508.2,1024.8 508.3,1026.3 508.5,1027.7 508.6,1029.3 508.8,1030.8 508.9,1032.4 509.1,1034.1 509.3,1035.8 509.4,1037.5 509.6,1039.3 509.7,1041.2 509.9,1043.1 510.0,1045.0 510.2,1047.0" fill="none" stroke="#0000ff" stroke-width="2.0" stroke-dasharray="6 3 2.5 3" stroke-linejoin="round" clip-path="url(#i3)"/>

<path d="M498.3,1047.0 498.4,1045.9 498.5,1044.9 498.7,1043.9 498.8,1042.9 498.9,1041.9 499.0,1041.0 499.1,1040.0 499.3,1039.1 499.4,1038.3 499.5,1037.4 499.6,1036.6 499.8,1035.8 499.9,1035.0 500.0,1034.2 500.1,1033.5 500.2,1032.8 500.4,1032.1 500.5,1031.4 500.6,1030.7 500.7,1030.1 500.8,1029.5 501.0,1029.0 501.1,1028.4 501.2,1027.9 501.3,1027.4 501.4,1026.9 501.6,1026.5 501.7,1026.0 501.8,1025.7 501.9,1025.3 502.0,1025.0 502.2,1024.6 502.3,1024.4 502.4,1024.1 502.5,1023.9 502.7,1023.7 502.8,1023.6 502.9,1023.5 503.0,1023.4 503.1,1023.3 503.2,1023.4 503.3,1023.5 503.5,1023.6 503.6,1023.7 503.7,1023.9 503.8,1024.1 503.9,1024.4 504.0,1024.6 504.1,1025.0 504.2,1025.3 504.3,1025.7 504.4,1026.0 504.5,1026.5 504.6,1026.9 504.7,1027.4 504.8,1027.9 504.9,1028.4 505.0,1029.0 505.1,1029.5 505.3,1030.1 505.4,1030.7 505.5,1031.4 505.6,1032.1 505.7,1032.8 505.8,1033.5 505.9,1034.2 506.0,1035.0 506.1,1035.8 506.2,1036.6 506.3,1037.4 506.4,1038.3 506.5,1039.1 506.6,1040.0 506.7,1041.0 506.8,1041.9 506.9,1042.9 507.0,1043.9 507.2,1044.9 507.3,1045.9 507.4,1047.0" fill="none" stroke="#ff0000" stroke-width="2.0" stroke-dasharray="1.8 2.2" stroke-linejoin="round" clip-path="url(#i3)"/>

<rect x="411" y="1130.6" width="85.8" height="50.3" fill="#fff" stroke="#8a8a8a" stroke-width="1"/>
<path d="M424.2,1180.9v-2.5M424.2,1130.6v2.5" stroke="#999" stroke-width="0.8"/>
<text x="424.2" y="1203.0" font-size="16" text-anchor="middle" >5.2</text>
<path d="M454.9,1180.9v-2.5M454.9,1130.6v2.5" stroke="#999" stroke-width="0.8"/>
<text x="454.9" y="1203.0" font-size="16" text-anchor="middle" >5.4</text>
<path d="M485.6,1180.9v-2.5M485.6,1130.6v2.5" stroke="#999" stroke-width="0.8"/>
<text x="485.6" y="1203.0" font-size="16" text-anchor="middle" >5.6</text>
<path d="M411,1135.7h2.5M496.8,1135.7h-2.5" stroke="#999" stroke-width="0.8"/>
<text x="404.2" y="1141.1" font-size="16" text-anchor="end" >-0.95</text>
<path d="M411,1147.6h2.5M496.8,1147.6h-2.5" stroke="#999" stroke-width="0.8"/>
<text x="404.2" y="1153.0" font-size="16" text-anchor="end" >-1</text>
<path d="M411,1159.5h2.5M496.8,1159.5h-2.5" stroke="#999" stroke-width="0.8"/>
<text x="404.2" y="1164.9" font-size="16" text-anchor="end" >-1.05</text>
<path d="M411,1171.4h2.5M496.8,1171.4h-2.5" stroke="#999" stroke-width="0.8"/>
<text x="404.2" y="1176.8" font-size="16" text-anchor="end" >-1.1</text>

<path d="M436.0,1128.0 436.4,1129.6 436.8,1131.1 437.2,1132.6 437.6,1134.1 438.0,1135.6 438.4,1137.0 438.8,1138.4 439.2,1139.7 439.6,1141.1 440.0,1142.3 440.4,1143.6 440.8,1144.8 441.2,1146.0 441.6,1147.2 442.0,1148.3 442.4,1149.3 442.8,1150.4 443.2,1151.4 443.6,1152.4 443.9,1153.3 444.3,1154.2 444.7,1155.1 445.1,1155.9 445.5,1156.7 445.9,1157.4 446.3,1158.1 446.7,1158.8 447.1,1159.4 447.5,1160.0 447.9,1160.6 448.3,1161.1 448.7,1161.5 449.1,1162.0 449.5,1162.3 449.9,1162.7 450.3,1162.9 450.7,1163.2 451.1,1163.3 451.5,1163.5 451.9,1163.5 452.3,1163.5 452.7,1163.3 453.1,1163.2 453.5,1162.9 453.9,1162.7 454.3,1162.3 454.7,1162.0 455.1,1161.5 455.5,1161.1 455.9,1160.6 456.3,1160.0 456.7,1159.4 457.1,1158.8 457.5,1158.1 457.9,1157.4 458.3,1156.7 458.7,1155.9 459.1,1155.1 459.5,1154.2 459.9,1153.3 460.4,1152.4 460.8,1151.4 461.2,1150.4 461.6,1149.3 462.0,1148.3 462.4,1147.2 462.8,1146.0 463.2,1144.8 463.6,1143.6 464.0,1142.3 464.4,1141.1 464.8,1139.7 465.2,1138.4 465.6,1137.0 466.0,1135.6 466.4,1134.1 466.8,1132.6 467.2,1131.1 467.6,1129.6 468.0,1128.0" fill="none" stroke="#00ff00" stroke-width="2.0"  stroke-linejoin="round" clip-path="url(#i4)"/>

<path d="M433.8,1128.0 434.3,1129.7 434.7,1131.4 435.2,1133.0 435.7,1134.7 436.1,1136.3 436.6,1137.8 437.1,1139.4 437.5,1140.9 438.0,1142.5 438.5,1143.9 438.9,1145.4 439.4,1146.9 439.9,1148.3 440.3,1149.7 440.8,1151.0 441.3,1152.4 441.7,1153.7 442.2,1154.9 442.7,1156.2 443.1,1157.4 443.6,1158.6 444.1,1159.8 444.6,1160.9 445.0,1162.0 445.5,1163.1 446.0,1164.1 446.4,1165.1 446.9,1166.0 447.4,1166.9 447.8,1167.8 448.3,1168.6 448.8,1169.4 449.2,1170.2 449.7,1170.9 450.2,1171.5 450.6,1172.1 451.1,1172.6 451.6,1173.0 452.0,1173.3 452.5,1173.5 452.9,1173.3 453.3,1173.0 453.7,1172.6 454.1,1172.1 454.6,1171.5 455.0,1170.9 455.4,1170.2 455.8,1169.4 456.2,1168.6 456.6,1167.8 457.0,1166.9 457.4,1166.0 457.9,1165.1 458.3,1164.1 458.7,1163.1 459.1,1162.0 459.5,1160.9 459.9,1159.8 460.3,1158.6 460.8,1157.4 461.2,1156.2 461.6,1154.9 462.0,1153.7 462.4,1152.4 462.8,1151.0 463.2,1149.7 463.6,1148.3 464.1,1146.9 464.5,1145.4 464.9,1143.9 465.3,1142.5 465.7,1140.9 466.1,1139.4 466.5,1137.8 466.9,1136.3 467.4,1134.7 467.8,1133.0 468.2,1131.4 468.6,1129.7 469.0,1128.0" fill="none" stroke="#0000ff" stroke-width="2.0" stroke-dasharray="6 3 2.5 3" stroke-linejoin="round" clip-path="url(#i4)"/>

<path d="M434.8,1128.0 435.3,1129.7 435.7,1131.3 436.2,1132.9 436.6,1134.5 437.1,1136.1 437.5,1137.6 438.0,1139.1 438.4,1140.6 438.9,1142.1 439.3,1143.5 439.8,1144.9 440.2,1146.3 440.7,1147.6 441.1,1148.9 441.6,1150.2 442.0,1151.5 442.5,1152.7 442.9,1153.9 443.4,1155.0 443.9,1156.1 444.3,1157.2 444.8,1158.3 445.2,1159.3 445.7,1160.3 446.1,1161.3 446.6,1162.2 447.0,1163.0 447.5,1163.9 447.9,1164.7 448.4,1165.4 448.8,1166.1 449.3,1166.8 449.7,1167.4 450.2,1168.0 450.6,1168.5 451.1,1168.9 451.5,1169.3 452.0,1169.7 452.4,1169.9 452.9,1170.0 453.3,1169.9 453.7,1169.7 454.1,1169.3 454.5,1168.9 454.9,1168.5 455.3,1168.0 455.6,1167.4 456.0,1166.8 456.4,1166.1 456.8,1165.4 457.2,1164.7 457.6,1163.9 458.0,1163.0 458.4,1162.2 458.8,1161.3 459.2,1160.3 459.6,1159.3 460.0,1158.3 460.4,1157.2 460.8,1156.1 461.1,1155.0 461.5,1153.9 461.9,1152.7 462.3,1151.5 462.7,1150.2 463.1,1148.9 463.5,1147.6 463.9,1146.3 464.3,1144.9 464.7,1143.5 465.1,1142.1 465.5,1140.6 465.9,1139.1 466.2,1137.6 466.6,1136.1 467.0,1134.5 467.4,1132.9 467.8,1131.3 468.2,1129.7 468.6,1128.0" fill="none" stroke="#ff0000" stroke-width="2.0" stroke-dasharray="1.8 2.2" stroke-linejoin="round" clip-path="url(#i4)"/>

</svg></body></html>
